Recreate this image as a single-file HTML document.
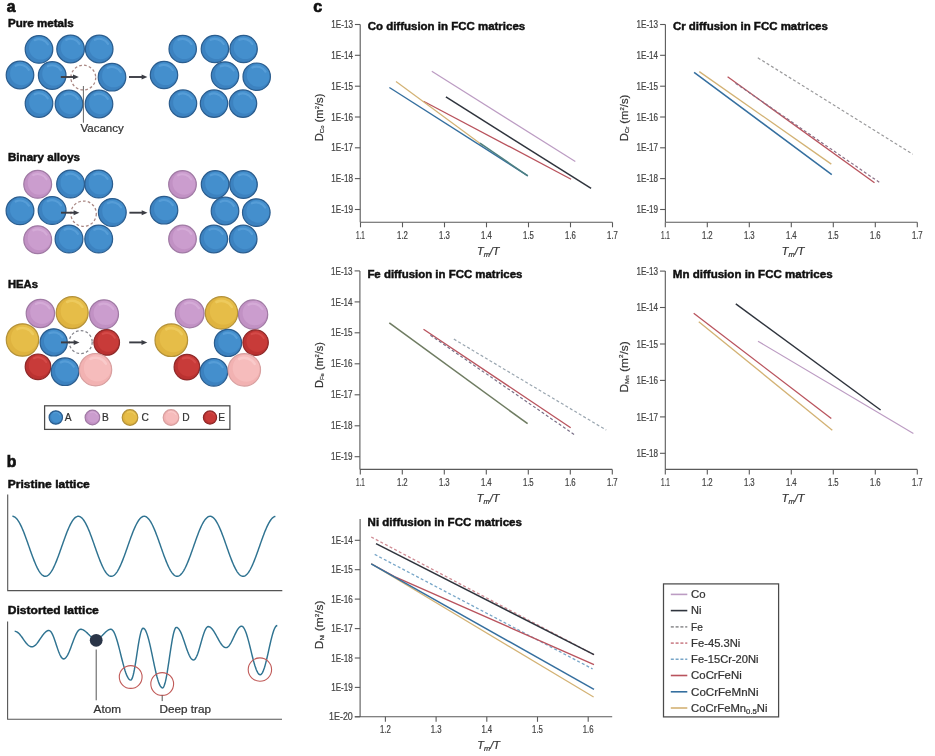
<!DOCTYPE html>
<html><head><meta charset="utf-8"><title>Diffusion in FCC matrices</title>
<style>html,body{margin:0;padding:0;background:#fff;} svg{display:block;will-change:transform;}</style></head>
<body>
<svg width="935" height="756" viewBox="0 0 935 756" font-family="'Liberation Sans', Arial, sans-serif">
<rect width="935" height="756" fill="#ffffff"/>
<text x="6.8" y="11.6" font-size="15.6" font-weight="bold" fill="#111" text-anchor="start" stroke="#111" stroke-width="0.7">a</text>
<text x="8" y="26.5" font-size="10.4" font-weight="bold" fill="#111" text-anchor="start" textLength="65.6" lengthAdjust="spacingAndGlyphs" stroke="#111" stroke-width="0.45">Pure metals</text>
<circle cx="39" cy="49.4" r="13.8" fill="#448fcd"/>
<path d="M25.20,49.40 a13.80,13.80 0 1,0 27.60,0 a13.80,13.80 0 1,0 -27.60,0 Z M29.06,47.94 a11.59,11.59 0 1,0 23.18,0 a11.59,11.59 0 1,0 -23.18,0 Z" fill="#3679b6" fill-rule="evenodd" opacity="0.55"/>
<path d="M34.68,40.14 A10.21,10.21 0 0,1 47.84,44.29" fill="none" stroke="#66a9e0" stroke-width="2.21" stroke-linecap="round" opacity="0.55"/>
<circle cx="39" cy="49.4" r="13.8" fill="none" stroke="#2b5d8e" stroke-width="1.2"/>
<circle cx="70.6" cy="49" r="13.8" fill="#448fcd"/>
<path d="M56.80,49.00 a13.80,13.80 0 1,0 27.60,0 a13.80,13.80 0 1,0 -27.60,0 Z M60.66,47.54 a11.59,11.59 0 1,0 23.18,0 a11.59,11.59 0 1,0 -23.18,0 Z" fill="#3679b6" fill-rule="evenodd" opacity="0.55"/>
<path d="M66.28,39.74 A10.21,10.21 0 0,1 79.44,43.89" fill="none" stroke="#66a9e0" stroke-width="2.21" stroke-linecap="round" opacity="0.55"/>
<circle cx="70.6" cy="49" r="13.8" fill="none" stroke="#2b5d8e" stroke-width="1.2"/>
<circle cx="99.2" cy="49" r="13.8" fill="#448fcd"/>
<path d="M85.40,49.00 a13.80,13.80 0 1,0 27.60,0 a13.80,13.80 0 1,0 -27.60,0 Z M89.26,47.54 a11.59,11.59 0 1,0 23.18,0 a11.59,11.59 0 1,0 -23.18,0 Z" fill="#3679b6" fill-rule="evenodd" opacity="0.55"/>
<path d="M94.88,39.74 A10.21,10.21 0 0,1 108.04,43.89" fill="none" stroke="#66a9e0" stroke-width="2.21" stroke-linecap="round" opacity="0.55"/>
<circle cx="99.2" cy="49" r="13.8" fill="none" stroke="#2b5d8e" stroke-width="1.2"/>
<circle cx="20" cy="75" r="13.8" fill="#448fcd"/>
<path d="M6.20,75.00 a13.80,13.80 0 1,0 27.60,0 a13.80,13.80 0 1,0 -27.60,0 Z M10.06,73.54 a11.59,11.59 0 1,0 23.18,0 a11.59,11.59 0 1,0 -23.18,0 Z" fill="#3679b6" fill-rule="evenodd" opacity="0.55"/>
<path d="M15.68,65.74 A10.21,10.21 0 0,1 28.84,69.89" fill="none" stroke="#66a9e0" stroke-width="2.21" stroke-linecap="round" opacity="0.55"/>
<circle cx="20" cy="75" r="13.8" fill="none" stroke="#2b5d8e" stroke-width="1.2"/>
<circle cx="52.2" cy="75.5" r="13.8" fill="#448fcd"/>
<path d="M38.40,75.50 a13.80,13.80 0 1,0 27.60,0 a13.80,13.80 0 1,0 -27.60,0 Z M42.26,74.04 a11.59,11.59 0 1,0 23.18,0 a11.59,11.59 0 1,0 -23.18,0 Z" fill="#3679b6" fill-rule="evenodd" opacity="0.55"/>
<path d="M47.88,66.24 A10.21,10.21 0 0,1 61.04,70.39" fill="none" stroke="#66a9e0" stroke-width="2.21" stroke-linecap="round" opacity="0.55"/>
<circle cx="52.2" cy="75.5" r="13.8" fill="none" stroke="#2b5d8e" stroke-width="1.2"/>
<circle cx="112" cy="77.2" r="13.8" fill="#448fcd"/>
<path d="M98.20,77.20 a13.80,13.80 0 1,0 27.60,0 a13.80,13.80 0 1,0 -27.60,0 Z M102.06,75.74 a11.59,11.59 0 1,0 23.18,0 a11.59,11.59 0 1,0 -23.18,0 Z" fill="#3679b6" fill-rule="evenodd" opacity="0.55"/>
<path d="M107.68,67.94 A10.21,10.21 0 0,1 120.84,72.09" fill="none" stroke="#66a9e0" stroke-width="2.21" stroke-linecap="round" opacity="0.55"/>
<circle cx="112" cy="77.2" r="13.8" fill="none" stroke="#2b5d8e" stroke-width="1.2"/>
<circle cx="39" cy="103.5" r="13.8" fill="#448fcd"/>
<path d="M25.20,103.50 a13.80,13.80 0 1,0 27.60,0 a13.80,13.80 0 1,0 -27.60,0 Z M29.06,102.04 a11.59,11.59 0 1,0 23.18,0 a11.59,11.59 0 1,0 -23.18,0 Z" fill="#3679b6" fill-rule="evenodd" opacity="0.55"/>
<path d="M34.68,94.24 A10.21,10.21 0 0,1 47.84,98.39" fill="none" stroke="#66a9e0" stroke-width="2.21" stroke-linecap="round" opacity="0.55"/>
<circle cx="39" cy="103.5" r="13.8" fill="none" stroke="#2b5d8e" stroke-width="1.2"/>
<circle cx="69" cy="104" r="13.8" fill="#448fcd"/>
<path d="M55.20,104.00 a13.80,13.80 0 1,0 27.60,0 a13.80,13.80 0 1,0 -27.60,0 Z M59.06,102.54 a11.59,11.59 0 1,0 23.18,0 a11.59,11.59 0 1,0 -23.18,0 Z" fill="#3679b6" fill-rule="evenodd" opacity="0.55"/>
<path d="M64.68,94.74 A10.21,10.21 0 0,1 77.84,98.89" fill="none" stroke="#66a9e0" stroke-width="2.21" stroke-linecap="round" opacity="0.55"/>
<circle cx="69" cy="104" r="13.8" fill="none" stroke="#2b5d8e" stroke-width="1.2"/>
<circle cx="99" cy="104" r="13.8" fill="#448fcd"/>
<path d="M85.20,104.00 a13.80,13.80 0 1,0 27.60,0 a13.80,13.80 0 1,0 -27.60,0 Z M89.06,102.54 a11.59,11.59 0 1,0 23.18,0 a11.59,11.59 0 1,0 -23.18,0 Z" fill="#3679b6" fill-rule="evenodd" opacity="0.55"/>
<path d="M94.68,94.74 A10.21,10.21 0 0,1 107.84,98.89" fill="none" stroke="#66a9e0" stroke-width="2.21" stroke-linecap="round" opacity="0.55"/>
<circle cx="99" cy="104" r="13.8" fill="none" stroke="#2b5d8e" stroke-width="1.2"/>
<circle cx="83.3" cy="77.6" r="12.4" fill="none" stroke="#a98783" stroke-width="1.25" stroke-dasharray="2.7 2.2"/>
<line x1="60.8" y1="77" x2="74.8" y2="77" stroke="#3b3d44" stroke-width="1.9"/>
<path d="M73.0,74.5 L78.8,77 L73.0,79.5 Z" fill="#3b3d44"/>
<line x1="129" y1="77" x2="143.4" y2="77" stroke="#3b3d44" stroke-width="1.9"/>
<path d="M141.6,74.5 L147.4,77 L141.6,79.5 Z" fill="#3b3d44"/>
<line x1="83.4" y1="86" x2="83.4" y2="122.7" stroke="#666" stroke-width="1"/>
<text x="80.4" y="132.2" font-size="10.2" font-weight="normal" fill="#333" text-anchor="start" textLength="43.4" lengthAdjust="spacingAndGlyphs" stroke="#333" stroke-width="0.22" >Vacancy</text>
<circle cx="182.7" cy="49" r="13.7" fill="#448fcd"/>
<path d="M169.00,49.00 a13.70,13.70 0 1,0 27.40,0 a13.70,13.70 0 1,0 -27.40,0 Z M172.84,47.55 a11.51,11.51 0 1,0 23.02,0 a11.51,11.51 0 1,0 -23.02,0 Z" fill="#3679b6" fill-rule="evenodd" opacity="0.55"/>
<path d="M178.42,39.81 A10.14,10.14 0 0,1 191.48,43.93" fill="none" stroke="#66a9e0" stroke-width="2.19" stroke-linecap="round" opacity="0.55"/>
<circle cx="182.7" cy="49" r="13.7" fill="none" stroke="#2b5d8e" stroke-width="1.2"/>
<circle cx="214.9" cy="49" r="13.7" fill="#448fcd"/>
<path d="M201.20,49.00 a13.70,13.70 0 1,0 27.40,0 a13.70,13.70 0 1,0 -27.40,0 Z M205.04,47.55 a11.51,11.51 0 1,0 23.02,0 a11.51,11.51 0 1,0 -23.02,0 Z" fill="#3679b6" fill-rule="evenodd" opacity="0.55"/>
<path d="M210.62,39.81 A10.14,10.14 0 0,1 223.68,43.93" fill="none" stroke="#66a9e0" stroke-width="2.19" stroke-linecap="round" opacity="0.55"/>
<circle cx="214.9" cy="49" r="13.7" fill="none" stroke="#2b5d8e" stroke-width="1.2"/>
<circle cx="243.6" cy="49" r="13.7" fill="#448fcd"/>
<path d="M229.90,49.00 a13.70,13.70 0 1,0 27.40,0 a13.70,13.70 0 1,0 -27.40,0 Z M233.74,47.55 a11.51,11.51 0 1,0 23.02,0 a11.51,11.51 0 1,0 -23.02,0 Z" fill="#3679b6" fill-rule="evenodd" opacity="0.55"/>
<path d="M239.32,39.81 A10.14,10.14 0 0,1 252.38,43.93" fill="none" stroke="#66a9e0" stroke-width="2.19" stroke-linecap="round" opacity="0.55"/>
<circle cx="243.6" cy="49" r="13.7" fill="none" stroke="#2b5d8e" stroke-width="1.2"/>
<circle cx="164" cy="75" r="13.7" fill="#448fcd"/>
<path d="M150.30,75.00 a13.70,13.70 0 1,0 27.40,0 a13.70,13.70 0 1,0 -27.40,0 Z M154.14,73.55 a11.51,11.51 0 1,0 23.02,0 a11.51,11.51 0 1,0 -23.02,0 Z" fill="#3679b6" fill-rule="evenodd" opacity="0.55"/>
<path d="M159.72,65.81 A10.14,10.14 0 0,1 172.78,69.93" fill="none" stroke="#66a9e0" stroke-width="2.19" stroke-linecap="round" opacity="0.55"/>
<circle cx="164" cy="75" r="13.7" fill="none" stroke="#2b5d8e" stroke-width="1.2"/>
<circle cx="225" cy="75.5" r="13.7" fill="#448fcd"/>
<path d="M211.30,75.50 a13.70,13.70 0 1,0 27.40,0 a13.70,13.70 0 1,0 -27.40,0 Z M215.14,74.05 a11.51,11.51 0 1,0 23.02,0 a11.51,11.51 0 1,0 -23.02,0 Z" fill="#3679b6" fill-rule="evenodd" opacity="0.55"/>
<path d="M220.72,66.31 A10.14,10.14 0 0,1 233.78,70.43" fill="none" stroke="#66a9e0" stroke-width="2.19" stroke-linecap="round" opacity="0.55"/>
<circle cx="225" cy="75.5" r="13.7" fill="none" stroke="#2b5d8e" stroke-width="1.2"/>
<circle cx="256.7" cy="76.7" r="13.7" fill="#448fcd"/>
<path d="M243.00,76.70 a13.70,13.70 0 1,0 27.40,0 a13.70,13.70 0 1,0 -27.40,0 Z M246.84,75.25 a11.51,11.51 0 1,0 23.02,0 a11.51,11.51 0 1,0 -23.02,0 Z" fill="#3679b6" fill-rule="evenodd" opacity="0.55"/>
<path d="M252.42,67.51 A10.14,10.14 0 0,1 265.48,71.63" fill="none" stroke="#66a9e0" stroke-width="2.19" stroke-linecap="round" opacity="0.55"/>
<circle cx="256.7" cy="76.7" r="13.7" fill="none" stroke="#2b5d8e" stroke-width="1.2"/>
<circle cx="183" cy="103.6" r="13.7" fill="#448fcd"/>
<path d="M169.30,103.60 a13.70,13.70 0 1,0 27.40,0 a13.70,13.70 0 1,0 -27.40,0 Z M173.14,102.15 a11.51,11.51 0 1,0 23.02,0 a11.51,11.51 0 1,0 -23.02,0 Z" fill="#3679b6" fill-rule="evenodd" opacity="0.55"/>
<path d="M178.72,94.41 A10.14,10.14 0 0,1 191.78,98.53" fill="none" stroke="#66a9e0" stroke-width="2.19" stroke-linecap="round" opacity="0.55"/>
<circle cx="183" cy="103.6" r="13.7" fill="none" stroke="#2b5d8e" stroke-width="1.2"/>
<circle cx="214" cy="103.6" r="13.7" fill="#448fcd"/>
<path d="M200.30,103.60 a13.70,13.70 0 1,0 27.40,0 a13.70,13.70 0 1,0 -27.40,0 Z M204.14,102.15 a11.51,11.51 0 1,0 23.02,0 a11.51,11.51 0 1,0 -23.02,0 Z" fill="#3679b6" fill-rule="evenodd" opacity="0.55"/>
<path d="M209.72,94.41 A10.14,10.14 0 0,1 222.78,98.53" fill="none" stroke="#66a9e0" stroke-width="2.19" stroke-linecap="round" opacity="0.55"/>
<circle cx="214" cy="103.6" r="13.7" fill="none" stroke="#2b5d8e" stroke-width="1.2"/>
<circle cx="243" cy="103.6" r="13.7" fill="#448fcd"/>
<path d="M229.30,103.60 a13.70,13.70 0 1,0 27.40,0 a13.70,13.70 0 1,0 -27.40,0 Z M233.14,102.15 a11.51,11.51 0 1,0 23.02,0 a11.51,11.51 0 1,0 -23.02,0 Z" fill="#3679b6" fill-rule="evenodd" opacity="0.55"/>
<path d="M238.72,94.41 A10.14,10.14 0 0,1 251.78,98.53" fill="none" stroke="#66a9e0" stroke-width="2.19" stroke-linecap="round" opacity="0.55"/>
<circle cx="243" cy="103.6" r="13.7" fill="none" stroke="#2b5d8e" stroke-width="1.2"/>
<text x="8" y="161" font-size="10.4" font-weight="bold" fill="#111" text-anchor="start" textLength="72" lengthAdjust="spacingAndGlyphs" stroke="#111" stroke-width="0.45">Binary alloys</text>
<circle cx="37.7" cy="184.3" r="13.9" fill="#cb9dce"/>
<path d="M23.80,184.30 a13.90,13.90 0 1,0 27.80,0 a13.90,13.90 0 1,0 -27.80,0 Z M27.69,182.83 a11.68,11.68 0 1,0 23.35,0 a11.68,11.68 0 1,0 -23.35,0 Z" fill="#b986bc" fill-rule="evenodd" opacity="0.55"/>
<path d="M33.35,174.98 A10.29,10.29 0 0,1 46.61,179.16" fill="none" stroke="#dcb6de" stroke-width="2.22" stroke-linecap="round" opacity="0.55"/>
<circle cx="37.7" cy="184.3" r="13.9" fill="none" stroke="#a07aa4" stroke-width="1.2"/>
<circle cx="70.6" cy="184" r="13.9" fill="#448fcd"/>
<path d="M56.70,184.00 a13.90,13.90 0 1,0 27.80,0 a13.90,13.90 0 1,0 -27.80,0 Z M60.59,182.53 a11.68,11.68 0 1,0 23.35,0 a11.68,11.68 0 1,0 -23.35,0 Z" fill="#3679b6" fill-rule="evenodd" opacity="0.55"/>
<path d="M66.25,174.68 A10.29,10.29 0 0,1 79.51,178.86" fill="none" stroke="#66a9e0" stroke-width="2.22" stroke-linecap="round" opacity="0.55"/>
<circle cx="70.6" cy="184" r="13.9" fill="none" stroke="#2b5d8e" stroke-width="1.2"/>
<circle cx="98.7" cy="184" r="13.9" fill="#448fcd"/>
<path d="M84.80,184.00 a13.90,13.90 0 1,0 27.80,0 a13.90,13.90 0 1,0 -27.80,0 Z M88.69,182.53 a11.68,11.68 0 1,0 23.35,0 a11.68,11.68 0 1,0 -23.35,0 Z" fill="#3679b6" fill-rule="evenodd" opacity="0.55"/>
<path d="M94.35,174.68 A10.29,10.29 0 0,1 107.61,178.86" fill="none" stroke="#66a9e0" stroke-width="2.22" stroke-linecap="round" opacity="0.55"/>
<circle cx="98.7" cy="184" r="13.9" fill="none" stroke="#2b5d8e" stroke-width="1.2"/>
<circle cx="20" cy="210.8" r="13.9" fill="#448fcd"/>
<path d="M6.10,210.80 a13.90,13.90 0 1,0 27.80,0 a13.90,13.90 0 1,0 -27.80,0 Z M9.99,209.33 a11.68,11.68 0 1,0 23.35,0 a11.68,11.68 0 1,0 -23.35,0 Z" fill="#3679b6" fill-rule="evenodd" opacity="0.55"/>
<path d="M15.65,201.48 A10.29,10.29 0 0,1 28.91,205.66" fill="none" stroke="#66a9e0" stroke-width="2.22" stroke-linecap="round" opacity="0.55"/>
<circle cx="20" cy="210.8" r="13.9" fill="none" stroke="#2b5d8e" stroke-width="1.2"/>
<circle cx="52.1" cy="210.5" r="13.9" fill="#448fcd"/>
<path d="M38.20,210.50 a13.90,13.90 0 1,0 27.80,0 a13.90,13.90 0 1,0 -27.80,0 Z M42.09,209.03 a11.68,11.68 0 1,0 23.35,0 a11.68,11.68 0 1,0 -23.35,0 Z" fill="#3679b6" fill-rule="evenodd" opacity="0.55"/>
<path d="M47.75,201.18 A10.29,10.29 0 0,1 61.01,205.36" fill="none" stroke="#66a9e0" stroke-width="2.22" stroke-linecap="round" opacity="0.55"/>
<circle cx="52.1" cy="210.5" r="13.9" fill="none" stroke="#2b5d8e" stroke-width="1.2"/>
<circle cx="112.3" cy="212.5" r="13.9" fill="#448fcd"/>
<path d="M98.40,212.50 a13.90,13.90 0 1,0 27.80,0 a13.90,13.90 0 1,0 -27.80,0 Z M102.29,211.03 a11.68,11.68 0 1,0 23.35,0 a11.68,11.68 0 1,0 -23.35,0 Z" fill="#3679b6" fill-rule="evenodd" opacity="0.55"/>
<path d="M107.95,203.18 A10.29,10.29 0 0,1 121.21,207.36" fill="none" stroke="#66a9e0" stroke-width="2.22" stroke-linecap="round" opacity="0.55"/>
<circle cx="112.3" cy="212.5" r="13.9" fill="none" stroke="#2b5d8e" stroke-width="1.2"/>
<circle cx="37.7" cy="239.7" r="13.9" fill="#cb9dce"/>
<path d="M23.80,239.70 a13.90,13.90 0 1,0 27.80,0 a13.90,13.90 0 1,0 -27.80,0 Z M27.69,238.23 a11.68,11.68 0 1,0 23.35,0 a11.68,11.68 0 1,0 -23.35,0 Z" fill="#b986bc" fill-rule="evenodd" opacity="0.55"/>
<path d="M33.35,230.38 A10.29,10.29 0 0,1 46.61,234.56" fill="none" stroke="#dcb6de" stroke-width="2.22" stroke-linecap="round" opacity="0.55"/>
<circle cx="37.7" cy="239.7" r="13.9" fill="none" stroke="#a07aa4" stroke-width="1.2"/>
<circle cx="69" cy="239" r="13.9" fill="#448fcd"/>
<path d="M55.10,239.00 a13.90,13.90 0 1,0 27.80,0 a13.90,13.90 0 1,0 -27.80,0 Z M58.99,237.53 a11.68,11.68 0 1,0 23.35,0 a11.68,11.68 0 1,0 -23.35,0 Z" fill="#3679b6" fill-rule="evenodd" opacity="0.55"/>
<path d="M64.65,229.68 A10.29,10.29 0 0,1 77.91,233.86" fill="none" stroke="#66a9e0" stroke-width="2.22" stroke-linecap="round" opacity="0.55"/>
<circle cx="69" cy="239" r="13.9" fill="none" stroke="#2b5d8e" stroke-width="1.2"/>
<circle cx="98.7" cy="239" r="13.9" fill="#448fcd"/>
<path d="M84.80,239.00 a13.90,13.90 0 1,0 27.80,0 a13.90,13.90 0 1,0 -27.80,0 Z M88.69,237.53 a11.68,11.68 0 1,0 23.35,0 a11.68,11.68 0 1,0 -23.35,0 Z" fill="#3679b6" fill-rule="evenodd" opacity="0.55"/>
<path d="M94.35,229.68 A10.29,10.29 0 0,1 107.61,233.86" fill="none" stroke="#66a9e0" stroke-width="2.22" stroke-linecap="round" opacity="0.55"/>
<circle cx="98.7" cy="239" r="13.9" fill="none" stroke="#2b5d8e" stroke-width="1.2"/>
<circle cx="83.6" cy="213.7" r="12.7" fill="none" stroke="#a98783" stroke-width="1.25" stroke-dasharray="2.7 2.2"/>
<line x1="61" y1="212.7" x2="75.4" y2="212.7" stroke="#3b3d44" stroke-width="1.9"/>
<path d="M73.60000000000001,210.2 L79.4,212.7 L73.60000000000001,215.2 Z" fill="#3b3d44"/>
<line x1="129.4" y1="212.7" x2="143.5" y2="212.7" stroke="#3b3d44" stroke-width="1.9"/>
<path d="M141.7,210.2 L147.5,212.7 L141.7,215.2 Z" fill="#3b3d44"/>
<circle cx="182.5" cy="184.5" r="13.8" fill="#cb9dce"/>
<path d="M168.70,184.50 a13.80,13.80 0 1,0 27.60,0 a13.80,13.80 0 1,0 -27.60,0 Z M172.56,183.04 a11.59,11.59 0 1,0 23.18,0 a11.59,11.59 0 1,0 -23.18,0 Z" fill="#b986bc" fill-rule="evenodd" opacity="0.55"/>
<path d="M178.18,175.24 A10.21,10.21 0 0,1 191.34,179.39" fill="none" stroke="#dcb6de" stroke-width="2.21" stroke-linecap="round" opacity="0.55"/>
<circle cx="182.5" cy="184.5" r="13.8" fill="none" stroke="#a07aa4" stroke-width="1.2"/>
<circle cx="215.1" cy="184.5" r="13.8" fill="#448fcd"/>
<path d="M201.30,184.50 a13.80,13.80 0 1,0 27.60,0 a13.80,13.80 0 1,0 -27.60,0 Z M205.16,183.04 a11.59,11.59 0 1,0 23.18,0 a11.59,11.59 0 1,0 -23.18,0 Z" fill="#3679b6" fill-rule="evenodd" opacity="0.55"/>
<path d="M210.78,175.24 A10.21,10.21 0 0,1 223.94,179.39" fill="none" stroke="#66a9e0" stroke-width="2.21" stroke-linecap="round" opacity="0.55"/>
<circle cx="215.1" cy="184.5" r="13.8" fill="none" stroke="#2b5d8e" stroke-width="1.2"/>
<circle cx="243.5" cy="184.5" r="13.8" fill="#448fcd"/>
<path d="M229.70,184.50 a13.80,13.80 0 1,0 27.60,0 a13.80,13.80 0 1,0 -27.60,0 Z M233.56,183.04 a11.59,11.59 0 1,0 23.18,0 a11.59,11.59 0 1,0 -23.18,0 Z" fill="#3679b6" fill-rule="evenodd" opacity="0.55"/>
<path d="M239.18,175.24 A10.21,10.21 0 0,1 252.34,179.39" fill="none" stroke="#66a9e0" stroke-width="2.21" stroke-linecap="round" opacity="0.55"/>
<circle cx="243.5" cy="184.5" r="13.8" fill="none" stroke="#2b5d8e" stroke-width="1.2"/>
<circle cx="164" cy="210.2" r="13.8" fill="#448fcd"/>
<path d="M150.20,210.20 a13.80,13.80 0 1,0 27.60,0 a13.80,13.80 0 1,0 -27.60,0 Z M154.06,208.74 a11.59,11.59 0 1,0 23.18,0 a11.59,11.59 0 1,0 -23.18,0 Z" fill="#3679b6" fill-rule="evenodd" opacity="0.55"/>
<path d="M159.68,200.94 A10.21,10.21 0 0,1 172.84,205.09" fill="none" stroke="#66a9e0" stroke-width="2.21" stroke-linecap="round" opacity="0.55"/>
<circle cx="164" cy="210.2" r="13.8" fill="none" stroke="#2b5d8e" stroke-width="1.2"/>
<circle cx="225" cy="211" r="13.8" fill="#448fcd"/>
<path d="M211.20,211.00 a13.80,13.80 0 1,0 27.60,0 a13.80,13.80 0 1,0 -27.60,0 Z M215.06,209.54 a11.59,11.59 0 1,0 23.18,0 a11.59,11.59 0 1,0 -23.18,0 Z" fill="#3679b6" fill-rule="evenodd" opacity="0.55"/>
<path d="M220.68,201.74 A10.21,10.21 0 0,1 233.84,205.89" fill="none" stroke="#66a9e0" stroke-width="2.21" stroke-linecap="round" opacity="0.55"/>
<circle cx="225" cy="211" r="13.8" fill="none" stroke="#2b5d8e" stroke-width="1.2"/>
<circle cx="256.3" cy="212.6" r="13.8" fill="#448fcd"/>
<path d="M242.50,212.60 a13.80,13.80 0 1,0 27.60,0 a13.80,13.80 0 1,0 -27.60,0 Z M246.36,211.14 a11.59,11.59 0 1,0 23.18,0 a11.59,11.59 0 1,0 -23.18,0 Z" fill="#3679b6" fill-rule="evenodd" opacity="0.55"/>
<path d="M251.98,203.34 A10.21,10.21 0 0,1 265.14,207.49" fill="none" stroke="#66a9e0" stroke-width="2.21" stroke-linecap="round" opacity="0.55"/>
<circle cx="256.3" cy="212.6" r="13.8" fill="none" stroke="#2b5d8e" stroke-width="1.2"/>
<circle cx="182.5" cy="239" r="13.8" fill="#cb9dce"/>
<path d="M168.70,239.00 a13.80,13.80 0 1,0 27.60,0 a13.80,13.80 0 1,0 -27.60,0 Z M172.56,237.54 a11.59,11.59 0 1,0 23.18,0 a11.59,11.59 0 1,0 -23.18,0 Z" fill="#b986bc" fill-rule="evenodd" opacity="0.55"/>
<path d="M178.18,229.74 A10.21,10.21 0 0,1 191.34,233.89" fill="none" stroke="#dcb6de" stroke-width="2.21" stroke-linecap="round" opacity="0.55"/>
<circle cx="182.5" cy="239" r="13.8" fill="none" stroke="#a07aa4" stroke-width="1.2"/>
<circle cx="213.8" cy="239" r="13.8" fill="#448fcd"/>
<path d="M200.00,239.00 a13.80,13.80 0 1,0 27.60,0 a13.80,13.80 0 1,0 -27.60,0 Z M203.86,237.54 a11.59,11.59 0 1,0 23.18,0 a11.59,11.59 0 1,0 -23.18,0 Z" fill="#3679b6" fill-rule="evenodd" opacity="0.55"/>
<path d="M209.48,229.74 A10.21,10.21 0 0,1 222.64,233.89" fill="none" stroke="#66a9e0" stroke-width="2.21" stroke-linecap="round" opacity="0.55"/>
<circle cx="213.8" cy="239" r="13.8" fill="none" stroke="#2b5d8e" stroke-width="1.2"/>
<circle cx="243.2" cy="239" r="13.8" fill="#448fcd"/>
<path d="M229.40,239.00 a13.80,13.80 0 1,0 27.60,0 a13.80,13.80 0 1,0 -27.60,0 Z M233.26,237.54 a11.59,11.59 0 1,0 23.18,0 a11.59,11.59 0 1,0 -23.18,0 Z" fill="#3679b6" fill-rule="evenodd" opacity="0.55"/>
<path d="M238.88,229.74 A10.21,10.21 0 0,1 252.04,233.89" fill="none" stroke="#66a9e0" stroke-width="2.21" stroke-linecap="round" opacity="0.55"/>
<circle cx="243.2" cy="239" r="13.8" fill="none" stroke="#2b5d8e" stroke-width="1.2"/>
<text x="8" y="287.5" font-size="10.4" font-weight="bold" fill="#111" text-anchor="start" textLength="30" lengthAdjust="spacingAndGlyphs" stroke="#111" stroke-width="0.45">HEAs</text>
<circle cx="40.4" cy="313.5" r="14.2" fill="#cb9dce"/>
<path d="M26.20,313.50 a14.20,14.20 0 1,0 28.40,0 a14.20,14.20 0 1,0 -28.40,0 Z M30.18,312.00 a11.93,11.93 0 1,0 23.86,0 a11.93,11.93 0 1,0 -23.86,0 Z" fill="#b986bc" fill-rule="evenodd" opacity="0.55"/>
<path d="M35.96,303.98 A10.51,10.51 0 0,1 49.50,308.25" fill="none" stroke="#dcb6de" stroke-width="2.27" stroke-linecap="round" opacity="0.55"/>
<circle cx="40.4" cy="313.5" r="14.2" fill="none" stroke="#a07aa4" stroke-width="1.2"/>
<circle cx="72.2" cy="312.7" r="16" fill="#e6bd48"/>
<path d="M56.20,312.70 a16.00,16.00 0 1,0 32.00,0 a16.00,16.00 0 1,0 -32.00,0 Z M60.68,311.01 a13.44,13.44 0 1,0 26.88,0 a13.44,13.44 0 1,0 -26.88,0 Z" fill="#d9ab38" fill-rule="evenodd" opacity="0.55"/>
<path d="M67.20,301.97 A11.84,11.84 0 0,1 82.45,306.78" fill="none" stroke="#f3d570" stroke-width="2.56" stroke-linecap="round" opacity="0.55"/>
<circle cx="72.2" cy="312.7" r="16" fill="none" stroke="#b4923a" stroke-width="1.2"/>
<circle cx="104" cy="314.3" r="14.5" fill="#cb9dce"/>
<path d="M89.50,314.30 a14.50,14.50 0 1,0 29.00,0 a14.50,14.50 0 1,0 -29.00,0 Z M93.56,312.77 a12.18,12.18 0 1,0 24.36,0 a12.18,12.18 0 1,0 -24.36,0 Z" fill="#b986bc" fill-rule="evenodd" opacity="0.55"/>
<path d="M99.47,304.58 A10.73,10.73 0 0,1 113.29,308.94" fill="none" stroke="#dcb6de" stroke-width="2.32" stroke-linecap="round" opacity="0.55"/>
<circle cx="104" cy="314.3" r="14.5" fill="none" stroke="#a07aa4" stroke-width="1.2"/>
<circle cx="22.5" cy="340" r="16.2" fill="#e6bd48"/>
<path d="M6.30,340.00 a16.20,16.20 0 1,0 32.40,0 a16.20,16.20 0 1,0 -32.40,0 Z M10.84,338.29 a13.61,13.61 0 1,0 27.22,0 a13.61,13.61 0 1,0 -27.22,0 Z" fill="#d9ab38" fill-rule="evenodd" opacity="0.55"/>
<path d="M17.43,329.14 A11.99,11.99 0 0,1 32.88,334.01" fill="none" stroke="#f3d570" stroke-width="2.59" stroke-linecap="round" opacity="0.55"/>
<circle cx="22.5" cy="340" r="16.2" fill="none" stroke="#b4923a" stroke-width="1.2"/>
<circle cx="53.7" cy="342.4" r="13.6" fill="#448fcd"/>
<path d="M40.10,342.40 a13.60,13.60 0 1,0 27.20,0 a13.60,13.60 0 1,0 -27.20,0 Z M43.91,340.96 a11.42,11.42 0 1,0 22.85,0 a11.42,11.42 0 1,0 -22.85,0 Z" fill="#3679b6" fill-rule="evenodd" opacity="0.55"/>
<path d="M49.45,333.28 A10.06,10.06 0 0,1 62.42,337.37" fill="none" stroke="#66a9e0" stroke-width="2.18" stroke-linecap="round" opacity="0.55"/>
<circle cx="53.7" cy="342.4" r="13.6" fill="none" stroke="#2b5d8e" stroke-width="1.2"/>
<circle cx="106.7" cy="342.4" r="12.8" fill="#c83b39"/>
<path d="M93.90,342.40 a12.80,12.80 0 1,0 25.60,0 a12.80,12.80 0 1,0 -25.60,0 Z M97.48,341.05 a10.75,10.75 0 1,0 21.50,0 a10.75,10.75 0 1,0 -21.50,0 Z" fill="#b12c2c" fill-rule="evenodd" opacity="0.55"/>
<path d="M102.70,333.82 A9.47,9.47 0 0,1 114.90,337.66" fill="none" stroke="#df5856" stroke-width="2.05" stroke-linecap="round" opacity="0.55"/>
<circle cx="106.7" cy="342.4" r="12.8" fill="none" stroke="#8e2a2a" stroke-width="1.2"/>
<circle cx="38" cy="366.8" r="12.8" fill="#c83b39"/>
<path d="M25.20,366.80 a12.80,12.80 0 1,0 25.60,0 a12.80,12.80 0 1,0 -25.60,0 Z M28.78,365.45 a10.75,10.75 0 1,0 21.50,0 a10.75,10.75 0 1,0 -21.50,0 Z" fill="#b12c2c" fill-rule="evenodd" opacity="0.55"/>
<path d="M34.00,358.22 A9.47,9.47 0 0,1 46.20,362.06" fill="none" stroke="#df5856" stroke-width="2.05" stroke-linecap="round" opacity="0.55"/>
<circle cx="38" cy="366.8" r="12.8" fill="none" stroke="#8e2a2a" stroke-width="1.2"/>
<circle cx="65" cy="371.7" r="13.8" fill="#448fcd"/>
<path d="M51.20,371.70 a13.80,13.80 0 1,0 27.60,0 a13.80,13.80 0 1,0 -27.60,0 Z M55.06,370.24 a11.59,11.59 0 1,0 23.18,0 a11.59,11.59 0 1,0 -23.18,0 Z" fill="#3679b6" fill-rule="evenodd" opacity="0.55"/>
<path d="M60.68,362.44 A10.21,10.21 0 0,1 73.84,366.59" fill="none" stroke="#66a9e0" stroke-width="2.21" stroke-linecap="round" opacity="0.55"/>
<circle cx="65" cy="371.7" r="13.8" fill="none" stroke="#2b5d8e" stroke-width="1.2"/>
<circle cx="95.5" cy="369.7" r="16.2" fill="#f6bcbc"/>
<path d="M79.30,369.70 a16.20,16.20 0 1,0 32.40,0 a16.20,16.20 0 1,0 -32.40,0 Z M83.84,367.99 a13.61,13.61 0 1,0 27.22,0 a13.61,13.61 0 1,0 -27.22,0 Z" fill="#eeaaaa" fill-rule="evenodd" opacity="0.55"/>
<path d="M90.43,358.84 A11.99,11.99 0 0,1 105.88,363.71" fill="none" stroke="#fcd6d6" stroke-width="2.59" stroke-linecap="round" opacity="0.55"/>
<circle cx="95.5" cy="369.7" r="16.2" fill="none" stroke="#d8a0a0" stroke-width="1.2"/>
<circle cx="80.7" cy="342.1" r="11.5" fill="none" stroke="#85858c" stroke-width="1.25" stroke-dasharray="2.7 2.2"/>
<line x1="61" y1="342.4" x2="75.5" y2="342.4" stroke="#3b3d44" stroke-width="1.9"/>
<path d="M73.7,339.9 L79.5,342.4 L73.7,344.9 Z" fill="#3b3d44"/>
<line x1="129.2" y1="342.4" x2="143.3" y2="342.4" stroke="#3b3d44" stroke-width="1.9"/>
<path d="M141.5,339.9 L147.3,342.4 L141.5,344.9 Z" fill="#3b3d44"/>
<circle cx="189.7" cy="313.4" r="14.4" fill="#cb9dce"/>
<path d="M175.30,313.40 a14.40,14.40 0 1,0 28.80,0 a14.40,14.40 0 1,0 -28.80,0 Z M179.33,311.88 a12.10,12.10 0 1,0 24.19,0 a12.10,12.10 0 1,0 -24.19,0 Z" fill="#b986bc" fill-rule="evenodd" opacity="0.55"/>
<path d="M185.20,303.74 A10.66,10.66 0 0,1 198.93,308.07" fill="none" stroke="#dcb6de" stroke-width="2.30" stroke-linecap="round" opacity="0.55"/>
<circle cx="189.7" cy="313.4" r="14.4" fill="none" stroke="#a07aa4" stroke-width="1.2"/>
<circle cx="221.5" cy="312.9" r="16.2" fill="#e6bd48"/>
<path d="M205.30,312.90 a16.20,16.20 0 1,0 32.40,0 a16.20,16.20 0 1,0 -32.40,0 Z M209.84,311.19 a13.61,13.61 0 1,0 27.22,0 a13.61,13.61 0 1,0 -27.22,0 Z" fill="#d9ab38" fill-rule="evenodd" opacity="0.55"/>
<path d="M216.43,302.04 A11.99,11.99 0 0,1 231.88,306.91" fill="none" stroke="#f3d570" stroke-width="2.59" stroke-linecap="round" opacity="0.55"/>
<circle cx="221.5" cy="312.9" r="16.2" fill="none" stroke="#b4923a" stroke-width="1.2"/>
<circle cx="253.1" cy="314.5" r="14.6" fill="#cb9dce"/>
<path d="M238.50,314.50 a14.60,14.60 0 1,0 29.20,0 a14.60,14.60 0 1,0 -29.20,0 Z M242.59,312.96 a12.26,12.26 0 1,0 24.53,0 a12.26,12.26 0 1,0 -24.53,0 Z" fill="#b986bc" fill-rule="evenodd" opacity="0.55"/>
<path d="M248.53,304.71 A10.80,10.80 0 0,1 262.46,309.10" fill="none" stroke="#dcb6de" stroke-width="2.34" stroke-linecap="round" opacity="0.55"/>
<circle cx="253.1" cy="314.5" r="14.6" fill="none" stroke="#a07aa4" stroke-width="1.2"/>
<circle cx="171.3" cy="340.2" r="16.3" fill="#e6bd48"/>
<path d="M155.00,340.20 a16.30,16.30 0 1,0 32.60,0 a16.30,16.30 0 1,0 -32.60,0 Z M159.56,338.48 a13.69,13.69 0 1,0 27.38,0 a13.69,13.69 0 1,0 -27.38,0 Z" fill="#d9ab38" fill-rule="evenodd" opacity="0.55"/>
<path d="M166.20,329.27 A12.06,12.06 0 0,1 181.75,334.17" fill="none" stroke="#f3d570" stroke-width="2.61" stroke-linecap="round" opacity="0.55"/>
<circle cx="171.3" cy="340.2" r="16.3" fill="none" stroke="#b4923a" stroke-width="1.2"/>
<circle cx="228" cy="342.9" r="13.6" fill="#448fcd"/>
<path d="M214.40,342.90 a13.60,13.60 0 1,0 27.20,0 a13.60,13.60 0 1,0 -27.20,0 Z M218.21,341.46 a11.42,11.42 0 1,0 22.85,0 a11.42,11.42 0 1,0 -22.85,0 Z" fill="#3679b6" fill-rule="evenodd" opacity="0.55"/>
<path d="M223.75,333.78 A10.06,10.06 0 0,1 236.72,337.87" fill="none" stroke="#66a9e0" stroke-width="2.18" stroke-linecap="round" opacity="0.55"/>
<circle cx="228" cy="342.9" r="13.6" fill="none" stroke="#2b5d8e" stroke-width="1.2"/>
<circle cx="255.6" cy="342.6" r="12.7" fill="#c83b39"/>
<path d="M242.90,342.60 a12.70,12.70 0 1,0 25.40,0 a12.70,12.70 0 1,0 -25.40,0 Z M246.46,341.26 a10.67,10.67 0 1,0 21.34,0 a10.67,10.67 0 1,0 -21.34,0 Z" fill="#b12c2c" fill-rule="evenodd" opacity="0.55"/>
<path d="M251.63,334.08 A9.40,9.40 0 0,1 263.74,337.90" fill="none" stroke="#df5856" stroke-width="2.03" stroke-linecap="round" opacity="0.55"/>
<circle cx="255.6" cy="342.6" r="12.7" fill="none" stroke="#8e2a2a" stroke-width="1.2"/>
<circle cx="186.9" cy="367.1" r="12.8" fill="#c83b39"/>
<path d="M174.10,367.10 a12.80,12.80 0 1,0 25.60,0 a12.80,12.80 0 1,0 -25.60,0 Z M177.68,365.75 a10.75,10.75 0 1,0 21.50,0 a10.75,10.75 0 1,0 -21.50,0 Z" fill="#b12c2c" fill-rule="evenodd" opacity="0.55"/>
<path d="M182.90,358.52 A9.47,9.47 0 0,1 195.10,362.36" fill="none" stroke="#df5856" stroke-width="2.05" stroke-linecap="round" opacity="0.55"/>
<circle cx="186.9" cy="367.1" r="12.8" fill="none" stroke="#8e2a2a" stroke-width="1.2"/>
<circle cx="213.8" cy="372.3" r="13.8" fill="#448fcd"/>
<path d="M200.00,372.30 a13.80,13.80 0 1,0 27.60,0 a13.80,13.80 0 1,0 -27.60,0 Z M203.86,370.84 a11.59,11.59 0 1,0 23.18,0 a11.59,11.59 0 1,0 -23.18,0 Z" fill="#3679b6" fill-rule="evenodd" opacity="0.55"/>
<path d="M209.48,363.04 A10.21,10.21 0 0,1 222.64,367.19" fill="none" stroke="#66a9e0" stroke-width="2.21" stroke-linecap="round" opacity="0.55"/>
<circle cx="213.8" cy="372.3" r="13.8" fill="none" stroke="#2b5d8e" stroke-width="1.2"/>
<circle cx="244.3" cy="369.9" r="16.2" fill="#f6bcbc"/>
<path d="M228.10,369.90 a16.20,16.20 0 1,0 32.40,0 a16.20,16.20 0 1,0 -32.40,0 Z M232.64,368.19 a13.61,13.61 0 1,0 27.22,0 a13.61,13.61 0 1,0 -27.22,0 Z" fill="#eeaaaa" fill-rule="evenodd" opacity="0.55"/>
<path d="M239.23,359.04 A11.99,11.99 0 0,1 254.68,363.91" fill="none" stroke="#fcd6d6" stroke-width="2.59" stroke-linecap="round" opacity="0.55"/>
<circle cx="244.3" cy="369.9" r="16.2" fill="none" stroke="#d8a0a0" stroke-width="1.2"/>
<rect x="44.6" y="405.8" width="185.3" height="23.6" fill="none" stroke="#4a4a4a" stroke-width="1.25"/>
<circle cx="55.8" cy="417.5" r="6.7" fill="#448fcd"/>
<path d="M49.10,417.50 a6.70,6.70 0 1,0 13.40,0 a6.70,6.70 0 1,0 -13.40,0 Z M50.98,416.79 a5.63,5.63 0 1,0 11.26,0 a5.63,5.63 0 1,0 -11.26,0 Z" fill="#3679b6" fill-rule="evenodd" opacity="0.55"/>
<path d="M53.70,413.01 A4.96,4.96 0 0,1 60.09,415.02" fill="none" stroke="#66a9e0" stroke-width="1.07" stroke-linecap="round" opacity="0.55"/>
<circle cx="55.8" cy="417.5" r="6.7" fill="none" stroke="#2b5d8e" stroke-width="1.2"/>
<text x="64.8" y="421.2" font-size="10.2" font-weight="normal" fill="#333" text-anchor="start" stroke="#333" stroke-width="0.22" >A</text>
<circle cx="92.4" cy="417.5" r="7.3" fill="#cb9dce"/>
<path d="M85.10,417.50 a7.30,7.30 0 1,0 14.60,0 a7.30,7.30 0 1,0 -14.60,0 Z M87.14,416.73 a6.13,6.13 0 1,0 12.26,0 a6.13,6.13 0 1,0 -12.26,0 Z" fill="#b986bc" fill-rule="evenodd" opacity="0.55"/>
<path d="M90.12,412.60 A5.40,5.40 0 0,1 97.08,414.80" fill="none" stroke="#dcb6de" stroke-width="1.17" stroke-linecap="round" opacity="0.55"/>
<circle cx="92.4" cy="417.5" r="7.3" fill="none" stroke="#a07aa4" stroke-width="1.2"/>
<text x="101.9" y="421.2" font-size="10.2" font-weight="normal" fill="#333" text-anchor="start" stroke="#333" stroke-width="0.22" >B</text>
<circle cx="130" cy="417.5" r="7.8" fill="#e6bd48"/>
<path d="M122.20,417.50 a7.80,7.80 0 1,0 15.60,0 a7.80,7.80 0 1,0 -15.60,0 Z M124.38,416.68 a6.55,6.55 0 1,0 13.10,0 a6.55,6.55 0 1,0 -13.10,0 Z" fill="#d9ab38" fill-rule="evenodd" opacity="0.55"/>
<path d="M127.56,412.27 A5.77,5.77 0 0,1 135.00,414.61" fill="none" stroke="#f3d570" stroke-width="1.25" stroke-linecap="round" opacity="0.55"/>
<circle cx="130" cy="417.5" r="7.8" fill="none" stroke="#b4923a" stroke-width="1.2"/>
<text x="141.6" y="421.2" font-size="10.2" font-weight="normal" fill="#333" text-anchor="start" stroke="#333" stroke-width="0.22" >C</text>
<circle cx="171" cy="417.5" r="7.8" fill="#f6bcbc"/>
<path d="M163.20,417.50 a7.80,7.80 0 1,0 15.60,0 a7.80,7.80 0 1,0 -15.60,0 Z M165.38,416.68 a6.55,6.55 0 1,0 13.10,0 a6.55,6.55 0 1,0 -13.10,0 Z" fill="#eeaaaa" fill-rule="evenodd" opacity="0.55"/>
<path d="M168.56,412.27 A5.77,5.77 0 0,1 176.00,414.61" fill="none" stroke="#fcd6d6" stroke-width="1.25" stroke-linecap="round" opacity="0.55"/>
<circle cx="171" cy="417.5" r="7.8" fill="none" stroke="#d8a0a0" stroke-width="1.2"/>
<text x="182.3" y="421.2" font-size="10.2" font-weight="normal" fill="#333" text-anchor="start" stroke="#333" stroke-width="0.22" >D</text>
<circle cx="210" cy="417.5" r="6.6" fill="#c83b39"/>
<path d="M203.40,417.50 a6.60,6.60 0 1,0 13.20,0 a6.60,6.60 0 1,0 -13.20,0 Z M205.25,416.80 a5.54,5.54 0 1,0 11.09,0 a5.54,5.54 0 1,0 -11.09,0 Z" fill="#b12c2c" fill-rule="evenodd" opacity="0.55"/>
<path d="M207.94,413.07 A4.88,4.88 0 0,1 214.23,415.06" fill="none" stroke="#df5856" stroke-width="1.06" stroke-linecap="round" opacity="0.55"/>
<circle cx="210" cy="417.5" r="6.6" fill="none" stroke="#8e2a2a" stroke-width="1.2"/>
<text x="218.2" y="421.2" font-size="10.2" font-weight="normal" fill="#333" text-anchor="start" stroke="#333" stroke-width="0.22" >E</text>
<text x="6.8" y="467.3" font-size="15.6" font-weight="bold" fill="#111" text-anchor="start" stroke="#111" stroke-width="0.7">b</text>
<text x="7.8" y="487.8" font-size="10.4" font-weight="bold" fill="#111" text-anchor="start" textLength="82" lengthAdjust="spacingAndGlyphs" stroke="#111" stroke-width="0.45">Pristine lattice</text>
<path d="M7.7,494.6 V590.6 H282.3" fill="none" stroke="#555" stroke-width="1.1"/>
<polyline points="12.4,516.30 12.9,516.33 13.4,516.44 13.9,516.61 14.4,516.84 14.9,517.15 15.4,517.52 15.9,517.95 16.4,518.46 16.9,519.02 17.4,519.64 17.9,520.33 18.4,521.08 18.9,521.88 19.4,522.74 19.9,523.65 20.4,524.61 20.9,525.62 21.4,526.68 21.9,527.79 22.4,528.93 22.9,530.12 23.4,531.34 23.9,532.60 24.4,533.88 24.9,535.20 25.4,536.54 25.9,537.90 26.4,539.29 26.9,540.68 27.4,542.09 27.9,543.52 28.4,544.94 28.9,546.37 29.4,547.80 29.9,549.23 30.4,550.65 30.9,552.06 31.4,553.45 31.9,554.83 32.4,556.19 32.9,557.53 33.4,558.85 33.9,560.13 34.4,561.38 34.9,562.60 35.4,563.78 35.9,564.92 36.4,566.02 36.9,567.08 37.4,568.09 37.9,569.04 38.4,569.95 38.9,570.80 39.4,571.60 39.9,572.34 40.4,573.02 40.9,573.64 41.4,574.20 41.9,574.69 42.4,575.12 42.9,575.49 43.4,575.78 43.9,576.01 44.4,576.18 44.9,576.27 45.4,576.30 45.9,576.26 46.4,576.15 46.9,575.97 47.4,575.73 47.9,575.42 48.4,575.04 48.9,574.60 49.4,574.09 49.9,573.52 50.4,572.89 50.9,572.20 51.4,571.45 51.9,570.64 52.4,569.77 52.9,568.86 53.4,567.89 53.9,566.87 54.4,565.81 54.9,564.70 55.4,563.55 55.9,562.36 56.4,561.13 56.9,559.88 57.4,558.58 57.9,557.27 58.4,555.92 58.9,554.56 59.4,553.17 59.9,551.78 60.4,550.36 60.9,548.94 61.4,547.52 61.9,546.09 62.4,544.66 62.9,543.23 63.4,541.81 63.9,540.40 64.4,539.01 64.9,537.63 65.4,536.27 65.9,534.94 66.4,533.63 66.9,532.34 67.4,531.09 67.9,529.88 68.4,528.70 68.9,527.56 69.4,526.47 69.9,525.42 70.4,524.42 70.9,523.46 71.4,522.56 71.9,521.71 72.4,520.92 72.9,520.19 73.4,519.51 73.9,518.90 74.4,518.35 74.9,517.86 75.4,517.44 75.9,517.08 76.4,516.79 76.9,516.57 77.4,516.41 77.9,516.32 78.4,516.30 78.9,516.35 79.4,516.46 79.9,516.65 80.4,516.90 80.9,517.22 81.4,517.60 81.9,518.05 82.4,518.56 82.9,519.14 83.4,519.78 83.9,520.48 84.4,521.23 84.9,522.05 85.4,522.92 85.9,523.84 86.4,524.81 86.9,525.83 87.4,526.90 87.9,528.01 88.4,529.17 88.9,530.36 89.4,531.59 89.9,532.85 90.4,534.15 90.9,535.47 91.4,536.81 91.9,538.18 92.4,539.56 92.9,540.97 93.4,542.38 93.9,543.80 94.4,545.23 94.9,546.66 95.4,548.09 95.9,549.51 96.4,550.93 96.9,552.34 97.4,553.73 97.9,555.11 98.4,556.46 98.9,557.80 99.4,559.10 99.9,560.38 100.4,561.63 100.9,562.84 101.4,564.01 101.9,565.15 102.4,566.24 102.9,567.28 103.4,568.28 103.9,569.23 104.4,570.13 104.9,570.97 105.4,571.75 105.9,572.48 106.4,573.15 106.9,573.76 107.4,574.30 107.9,574.78 108.4,575.20 108.9,575.55 109.4,575.83 109.9,576.05 110.4,576.20 110.9,576.28 111.4,576.30 111.9,576.24 112.4,576.12 112.9,575.93 113.4,575.67 113.9,575.35 114.4,574.96 114.9,574.50 115.4,573.98 115.9,573.40 116.4,572.76 116.9,572.05 117.4,571.29 117.9,570.47 118.4,569.59 118.9,568.67 119.4,567.69 119.9,566.66 120.4,565.59 120.9,564.47 121.4,563.31 121.9,562.12 122.4,560.89 122.9,559.62 123.4,558.32 123.9,557.00 124.4,555.65 124.9,554.28 125.4,552.90 125.9,551.49 126.4,550.08 126.9,548.66 127.4,547.23 127.9,545.80 128.4,544.37 128.9,542.95 129.4,541.53 129.9,540.12 130.4,538.73 130.9,537.36 131.4,536.00 131.9,534.67 132.4,533.37 132.9,532.09 133.4,530.85 133.9,529.64 134.4,528.47 134.9,527.34 135.4,526.25 135.9,525.21 136.4,524.22 136.9,523.28 137.4,522.39 137.9,521.55 138.4,520.77 138.9,520.05 139.4,519.39 139.9,518.79 140.4,518.25 140.9,517.77 141.4,517.36 141.9,517.02 142.4,516.74 142.9,516.53 143.4,516.39 143.9,516.31 144.4,516.31 144.9,516.37 145.4,516.50 145.9,516.69 146.4,516.96 146.9,517.29 147.4,517.69 147.9,518.15 148.4,518.67 148.9,519.26 149.4,519.91 149.9,520.62 150.4,521.39 150.9,522.22 151.4,523.10 151.9,524.03 152.4,525.01 152.9,526.04 153.4,527.12 153.9,528.24 154.4,529.40 154.9,530.60 155.4,531.84 155.9,533.11 156.4,534.41 156.9,535.73 157.4,537.08 157.9,538.45 158.4,539.84 158.9,541.25 159.4,542.66 159.9,544.09 160.4,545.51 160.9,546.94 161.4,548.37 161.9,549.80 162.4,551.21 162.9,552.62 163.4,554.01 163.9,555.38 164.4,556.73 164.9,558.06 165.4,559.36 165.9,560.63 166.4,561.87 166.9,563.08 167.4,564.24 167.9,565.37 168.4,566.45 168.9,567.49 169.4,568.48 169.9,569.41 170.4,570.30 170.9,571.13 171.4,571.90 171.9,572.62 172.4,573.28 172.9,573.87 173.4,574.40 173.9,574.87 174.4,575.27 174.9,575.61 175.4,575.88 175.9,576.09 176.4,576.22 176.9,576.29 177.4,576.29 177.9,576.22 178.4,576.09 178.9,575.88 179.4,575.61 179.9,575.27 180.4,574.87 180.9,574.40 181.4,573.87 181.9,573.28 182.4,572.62 182.9,571.90 183.4,571.13 183.9,570.30 184.4,569.41 184.9,568.48 185.4,567.49 185.9,566.45 186.4,565.37 186.9,564.24 187.4,563.08 187.9,561.87 188.4,560.63 188.9,559.36 189.4,558.06 189.9,556.73 190.4,555.38 190.9,554.01 191.4,552.62 191.9,551.21 192.4,549.80 192.9,548.37 193.4,546.94 193.9,545.51 194.4,544.09 194.9,542.66 195.4,541.25 195.9,539.84 196.4,538.45 196.9,537.08 197.4,535.73 197.9,534.41 198.4,533.11 198.9,531.84 199.4,530.60 199.9,529.40 200.4,528.24 200.9,527.12 201.4,526.04 201.9,525.01 202.4,524.03 202.9,523.10 203.4,522.22 203.9,521.39 204.4,520.62 204.9,519.91 205.4,519.26 205.9,518.67 206.4,518.15 206.9,517.69 207.4,517.29 207.9,516.96 208.4,516.69 208.9,516.50 209.4,516.37 209.9,516.31 210.4,516.31 210.9,516.39 211.4,516.53 211.9,516.74 212.4,517.02 212.9,517.36 213.4,517.77 213.9,518.25 214.4,518.79 214.9,519.39 215.4,520.05 215.9,520.77 216.4,521.55 216.9,522.39 217.4,523.28 217.9,524.22 218.4,525.21 218.9,526.25 219.4,527.34 219.9,528.47 220.4,529.64 220.9,530.85 221.4,532.09 221.9,533.37 222.4,534.67 222.9,536.00 223.4,537.36 223.9,538.73 224.4,540.12 224.9,541.53 225.4,542.95 225.9,544.37 226.4,545.80 226.9,547.23 227.4,548.66 227.9,550.08 228.4,551.49 228.9,552.90 229.4,554.28 229.9,555.65 230.4,557.00 230.9,558.32 231.4,559.62 231.9,560.89 232.4,562.12 232.9,563.31 233.4,564.47 233.9,565.59 234.4,566.66 234.9,567.69 235.4,568.67 235.9,569.59 236.4,570.47 236.9,571.29 237.4,572.05 237.9,572.76 238.4,573.40 238.9,573.98 239.4,574.50 239.9,574.96 240.4,575.35 240.9,575.67 241.4,575.93 241.9,576.12 242.4,576.24 242.9,576.30 243.4,576.28 243.9,576.20 244.4,576.05 244.9,575.83 245.4,575.55 245.9,575.20 246.4,574.78 246.9,574.30 247.4,573.76 247.9,573.15 248.4,572.48 248.9,571.75 249.4,570.97 249.9,570.13 250.4,569.23 250.9,568.28 251.4,567.28 251.9,566.24 252.4,565.15 252.9,564.01 253.4,562.84 253.9,561.63 254.4,560.38 254.9,559.10 255.4,557.80 255.9,556.46 256.4,555.11 256.9,553.73 257.4,552.34 257.9,550.93 258.4,549.51 258.9,548.09 259.4,546.66 259.9,545.23 260.4,543.80 260.9,542.38 261.4,540.97 261.9,539.56 262.4,538.18 262.9,536.81 263.4,535.47 263.9,534.15 264.4,532.85 264.9,531.59 265.4,530.36 265.9,529.17 266.4,528.01 266.9,526.90 267.4,525.83 267.9,524.81 268.4,523.84 268.9,522.92 269.4,522.05 269.9,521.23 270.4,520.48 270.9,519.78 271.4,519.14 271.9,518.56 272.4,518.05 272.9,517.60 273.4,517.22 273.9,516.90 274.4,516.65 274.9,516.46 275.4,516.35" fill="none" stroke="#2f7391" stroke-width="1.45"/>
<text x="7.8" y="614.2" font-size="10.4" font-weight="bold" fill="#111" text-anchor="start" textLength="91" lengthAdjust="spacingAndGlyphs" stroke="#111" stroke-width="0.45">Distorted lattice</text>
<path d="M7.6,621.4 V719.2 H282" fill="none" stroke="#555" stroke-width="1.1"/>
<polyline points="14.70,631.30 15.41,631.37 16.12,631.56 16.84,631.89 17.55,632.34 18.26,632.90 18.98,633.57 19.69,634.33 20.40,635.17 21.11,636.08 21.82,637.04 22.54,638.04 23.25,639.05 23.96,640.06 24.68,641.06 25.39,642.02 26.10,642.92 26.81,643.77 27.52,644.53 28.24,645.20 28.95,645.76 29.66,646.21 30.38,646.54 31.09,646.73 31.80,646.80 32.51,646.73 33.23,646.52 33.94,646.18 34.65,645.71 35.36,645.12 36.08,644.41 36.79,643.61 37.50,642.73 38.21,641.77 38.92,640.76 39.64,639.71 40.35,638.65 41.06,637.59 41.77,636.54 42.49,635.53 43.20,634.58 43.91,633.69 44.62,632.89 45.34,632.18 46.05,631.59 46.76,631.12 47.47,630.78 48.19,630.57 48.90,630.50 49.51,630.62 50.12,630.98 50.74,631.58 51.35,632.40 51.96,633.43 52.58,634.66 53.19,636.06 53.80,637.60 54.41,639.27 55.02,641.02 55.64,642.85 56.25,644.70 56.86,646.55 57.48,648.38 58.09,650.13 58.70,651.80 59.31,653.34 59.92,654.74 60.54,655.97 61.15,657.00 61.76,657.82 62.38,658.42 62.99,658.78 63.60,658.90 64.31,658.77 65.02,658.40 65.72,657.77 66.43,656.92 67.14,655.84 67.85,654.57 68.56,653.11 69.27,651.50 69.97,649.76 70.68,647.93 71.39,646.03 72.10,644.10 72.81,642.17 73.52,640.27 74.22,638.44 74.93,636.70 75.64,635.09 76.35,633.63 77.06,632.36 77.77,631.28 78.47,630.43 79.18,629.80 79.89,629.43 80.60,629.30 81.25,629.34 81.90,629.47 82.55,629.67 83.20,629.95 83.85,630.30 84.50,630.72 85.15,631.20 85.80,631.72 86.45,632.29 87.10,632.89 87.75,633.52 88.40,634.15 89.05,634.78 89.70,635.41 90.35,636.01 91.00,636.57 91.65,637.10 92.30,637.58 92.95,638.00 93.60,638.35 94.25,638.63 94.90,638.83 95.55,638.96 96.20,639.00 96.81,638.96 97.42,638.83 98.04,638.63 98.65,638.35 99.26,638.00 99.88,637.58 100.49,637.10 101.10,636.58 101.71,636.01 102.33,635.41 102.94,634.78 103.55,634.15 104.16,633.52 104.78,632.89 105.39,632.29 106.00,631.73 106.61,631.20 107.23,630.72 107.84,630.30 108.45,629.95 109.06,629.67 109.68,629.47 110.29,629.34 110.90,629.30 111.73,629.52 112.55,630.17 113.38,631.23 114.20,632.70 115.03,634.55 115.85,636.74 116.67,639.24 117.50,642.00 118.33,644.98 119.15,648.13 119.97,651.38 120.80,654.70 121.62,658.02 122.45,661.27 123.27,664.42 124.10,667.40 124.92,670.16 125.75,672.66 126.57,674.85 127.40,676.70 128.22,678.17 129.05,679.23 129.88,679.88 130.70,680.10 131.22,679.88 131.73,679.22 132.25,678.12 132.77,676.62 133.28,674.74 133.80,672.50 134.32,669.95 134.83,667.12 135.35,664.08 135.87,660.87 136.38,657.54 136.90,654.15 137.42,650.76 137.93,647.43 138.45,644.22 138.97,641.18 139.48,638.35 140.00,635.80 140.52,633.56 141.03,631.68 141.55,630.18 142.07,629.08 142.58,628.42 143.10,628.20 143.91,628.46 144.72,629.22 145.53,630.47 146.33,632.20 147.14,634.37 147.95,636.94 148.76,639.88 149.57,643.12 150.38,646.63 151.18,650.32 151.99,654.15 152.80,658.05 153.61,661.95 154.42,665.78 155.22,669.47 156.03,672.98 156.84,676.22 157.65,679.16 158.46,681.73 159.27,683.90 160.07,685.63 160.88,686.88 161.69,687.64 162.50,687.90 163.08,687.64 163.66,686.87 164.24,685.60 164.82,683.85 165.40,681.65 165.97,679.04 166.55,676.07 167.13,672.77 167.71,669.23 168.29,665.48 168.87,661.60 169.45,657.65 170.03,653.70 170.61,649.82 171.19,646.07 171.77,642.52 172.35,639.23 172.93,636.26 173.50,633.65 174.08,631.45 174.66,629.70 175.24,628.43 175.82,627.66 176.40,627.40 177.11,627.54 177.83,627.96 178.54,628.64 179.25,629.58 179.96,630.77 180.68,632.17 181.39,633.78 182.10,635.55 182.81,637.46 183.53,639.48 184.24,641.57 184.95,643.70 185.66,645.83 186.38,647.92 187.09,649.94 187.80,651.85 188.51,653.62 189.22,655.23 189.94,656.63 190.65,657.82 191.36,658.76 192.07,659.44 192.79,659.86 193.50,660.00 194.11,659.86 194.72,659.43 195.34,658.73 195.95,657.76 196.56,656.55 197.18,655.11 197.79,653.47 198.40,651.65 199.01,649.69 199.62,647.62 200.24,645.48 200.85,643.30 201.46,641.12 202.07,638.98 202.69,636.91 203.30,634.95 203.91,633.13 204.52,631.49 205.14,630.05 205.75,628.84 206.36,627.87 206.97,627.17 207.59,626.74 208.20,626.60 208.95,626.69 209.69,626.96 210.44,627.40 211.18,628.01 211.93,628.77 212.67,629.68 213.42,630.71 214.17,631.85 214.91,633.08 215.66,634.38 216.40,635.73 217.15,637.10 217.90,638.47 218.64,639.82 219.39,641.12 220.13,642.35 220.88,643.49 221.62,644.52 222.37,645.43 223.12,646.19 223.86,646.80 224.61,647.24 225.35,647.51 226.10,647.60 226.75,647.51 227.39,647.24 228.04,646.79 228.68,646.17 229.33,645.39 229.97,644.47 230.62,643.41 231.27,642.25 231.91,640.99 232.56,639.67 233.20,638.30 233.85,636.90 234.50,635.50 235.14,634.13 235.79,632.81 236.43,631.55 237.08,630.39 237.72,629.33 238.37,628.41 239.02,627.63 239.66,627.01 240.31,626.56 240.95,626.29 241.60,626.20 242.38,626.41 243.15,627.03 243.92,628.05 244.70,629.45 245.47,631.21 246.25,633.30 247.03,635.69 247.80,638.33 248.57,641.17 249.35,644.17 250.12,647.28 250.90,650.45 251.67,653.62 252.45,656.73 253.22,659.73 254.00,662.58 254.77,665.21 255.55,667.60 256.32,669.69 257.10,671.45 257.88,672.85 258.65,673.87 259.43,674.49 260.20,674.70 260.91,674.49 261.62,673.86 262.34,672.83 263.05,671.40 263.76,669.62 264.48,667.49 265.19,665.08 265.90,662.40 266.61,659.51 267.32,656.47 268.04,653.31 268.75,650.10 269.46,646.89 270.18,643.73 270.89,640.69 271.60,637.80 272.31,635.12 273.02,632.71 273.74,630.58 274.45,628.80 275.16,627.37 275.88,626.34 276.59,625.71 277.3,625.5" fill="none" stroke="#2f7391" stroke-width="1.45"/>
<circle cx="130.7" cy="677" r="11.4" fill="none" stroke="#c05a58" stroke-width="1.1"/>
<circle cx="162.2" cy="684" r="11.4" fill="none" stroke="#c05a58" stroke-width="1.1"/>
<circle cx="259.9" cy="669.6" r="11.7" fill="none" stroke="#c05a58" stroke-width="1.1"/>
<line x1="96.2" y1="649.5" x2="96.2" y2="700.3" stroke="#555" stroke-width="1"/>
<line x1="162.2" y1="695.4" x2="162.2" y2="701.1" stroke="#555" stroke-width="1"/>
<circle cx="96.2" cy="640.3" r="6.4" fill="#2a3548"/>
<text x="93.6" y="713" font-size="10.2" font-weight="normal" fill="#333" text-anchor="start" textLength="27.4" lengthAdjust="spacingAndGlyphs" stroke="#333" stroke-width="0.22" >Atom</text>
<text x="159.6" y="713" font-size="10.2" font-weight="normal" fill="#333" text-anchor="start" textLength="51.4" lengthAdjust="spacingAndGlyphs" stroke="#333" stroke-width="0.22" >Deep trap</text>
<text x="313.3" y="11.6" font-size="16" font-weight="bold" fill="#111" text-anchor="start" stroke="#111" stroke-width="0.7">c</text>
<path d="M360.2,24.5 V222.3 M360.2,222.3 H612.5" fill="none" stroke="#5a5a5a" stroke-width="1.1"/>
<line x1="354.9" y1="24.5" x2="360.2" y2="24.5" stroke="#5a5a5a" stroke-width="1.1"/>
<text x="352.9" y="28.1" font-size="10" font-weight="normal" fill="#444" text-anchor="end" textLength="21.6" lengthAdjust="spacingAndGlyphs" stroke="#444" stroke-width="0.22" >1E-13</text>
<line x1="354.9" y1="55.3" x2="360.2" y2="55.3" stroke="#5a5a5a" stroke-width="1.1"/>
<text x="352.9" y="58.9" font-size="10" font-weight="normal" fill="#444" text-anchor="end" textLength="21.6" lengthAdjust="spacingAndGlyphs" stroke="#444" stroke-width="0.22" >1E-14</text>
<line x1="354.9" y1="86.2" x2="360.2" y2="86.2" stroke="#5a5a5a" stroke-width="1.1"/>
<text x="352.9" y="89.8" font-size="10" font-weight="normal" fill="#444" text-anchor="end" textLength="21.6" lengthAdjust="spacingAndGlyphs" stroke="#444" stroke-width="0.22" >1E-15</text>
<line x1="354.9" y1="117.0" x2="360.2" y2="117.0" stroke="#5a5a5a" stroke-width="1.1"/>
<text x="352.9" y="120.6" font-size="10" font-weight="normal" fill="#444" text-anchor="end" textLength="21.6" lengthAdjust="spacingAndGlyphs" stroke="#444" stroke-width="0.22" >1E-16</text>
<line x1="354.9" y1="147.8" x2="360.2" y2="147.8" stroke="#5a5a5a" stroke-width="1.1"/>
<text x="352.9" y="151.4" font-size="10" font-weight="normal" fill="#444" text-anchor="end" textLength="21.6" lengthAdjust="spacingAndGlyphs" stroke="#444" stroke-width="0.22" >1E-17</text>
<line x1="354.9" y1="178.6" x2="360.2" y2="178.6" stroke="#5a5a5a" stroke-width="1.1"/>
<text x="352.9" y="182.2" font-size="10" font-weight="normal" fill="#444" text-anchor="end" textLength="21.6" lengthAdjust="spacingAndGlyphs" stroke="#444" stroke-width="0.22" >1E-18</text>
<line x1="354.9" y1="209.5" x2="360.2" y2="209.5" stroke="#5a5a5a" stroke-width="1.1"/>
<text x="352.9" y="213.1" font-size="10" font-weight="normal" fill="#444" text-anchor="end" textLength="21.6" lengthAdjust="spacingAndGlyphs" stroke="#444" stroke-width="0.22" >1E-19</text>
<line x1="360.5" y1="222.3" x2="360.5" y2="227.3" stroke="#5a5a5a" stroke-width="1.1"/>
<text x="360.5" y="238.8" font-size="10" font-weight="normal" fill="#444" text-anchor="middle" textLength="8.8" lengthAdjust="spacingAndGlyphs" stroke="#444" stroke-width="0.22" >1.1</text>
<line x1="402.5" y1="222.3" x2="402.5" y2="227.3" stroke="#5a5a5a" stroke-width="1.1"/>
<text x="402.5" y="238.8" font-size="10" font-weight="normal" fill="#444" text-anchor="middle" textLength="10.8" lengthAdjust="spacingAndGlyphs" stroke="#444" stroke-width="0.22" >1.2</text>
<line x1="444.5" y1="222.3" x2="444.5" y2="227.3" stroke="#5a5a5a" stroke-width="1.1"/>
<text x="444.5" y="238.8" font-size="10" font-weight="normal" fill="#444" text-anchor="middle" textLength="10.8" lengthAdjust="spacingAndGlyphs" stroke="#444" stroke-width="0.22" >1.3</text>
<line x1="486.5" y1="222.3" x2="486.5" y2="227.3" stroke="#5a5a5a" stroke-width="1.1"/>
<text x="486.5" y="238.8" font-size="10" font-weight="normal" fill="#444" text-anchor="middle" textLength="10.8" lengthAdjust="spacingAndGlyphs" stroke="#444" stroke-width="0.22" >1.4</text>
<line x1="528.5" y1="222.3" x2="528.5" y2="227.3" stroke="#5a5a5a" stroke-width="1.1"/>
<text x="528.5" y="238.8" font-size="10" font-weight="normal" fill="#444" text-anchor="middle" textLength="10.8" lengthAdjust="spacingAndGlyphs" stroke="#444" stroke-width="0.22" >1.5</text>
<line x1="570.5" y1="222.3" x2="570.5" y2="227.3" stroke="#5a5a5a" stroke-width="1.1"/>
<text x="570.5" y="238.8" font-size="10" font-weight="normal" fill="#444" text-anchor="middle" textLength="10.8" lengthAdjust="spacingAndGlyphs" stroke="#444" stroke-width="0.22" >1.6</text>
<line x1="612.5" y1="222.3" x2="612.5" y2="227.3" stroke="#5a5a5a" stroke-width="1.1"/>
<text x="612.5" y="238.8" font-size="10" font-weight="normal" fill="#444" text-anchor="middle" textLength="10.8" lengthAdjust="spacingAndGlyphs" stroke="#444" stroke-width="0.22" >1.7</text>
<text x="477.0" y="254.9" font-size="11" font-style="italic" fill="#333" stroke="#333" stroke-width="0.22" textLength="22.5" lengthAdjust="spacingAndGlyphs">T<tspan font-size="7.5" dy="1.6">m</tspan><tspan dy="-1.6">/T</tspan></text>
<text transform="translate(323.1,141.2) rotate(-90)" font-size="11.6" fill="#333" stroke="#333" stroke-width="0.2" textLength="47.6" lengthAdjust="spacingAndGlyphs">D<tspan font-size="6.2" dy="1.3">Co</tspan><tspan dy="-1.3"> (m</tspan><tspan font-size="6.2" dy="-4.2">2</tspan><tspan dy="4.2">/s)</tspan></text>
<text x="367.7" y="30.4" font-size="11" font-weight="bold" fill="#111" text-anchor="start" textLength="157.5" lengthAdjust="spacingAndGlyphs" stroke="#111" stroke-width="0.45">Co diffusion in FCC matrices</text>
<polyline points="431.8,71.3 575.3,161.6" fill="none" stroke="#bc9cc3" stroke-width="1.2"/>
<polyline points="445.9,96.9 591.1,188.4" fill="none" stroke="#2f343d" stroke-width="1.5"/>
<polyline points="423.5,101.2 571.1,179.2" fill="none" stroke="#b9535d" stroke-width="1.3"/>
<polyline points="396,81.6 483.5,145.9" fill="none" stroke="#d3b274" stroke-width="1.2"/>
<polyline points="389.4,87.5 527.8,175.8" fill="none" stroke="#356f9f" stroke-width="1.4"/>
<polyline points="480,143.2 527.8,175.8" fill="none" stroke="#4f8080" stroke-width="1.5"/>
<path d="M665.4,24.5 V222.3 M665.4,222.3 H917.3" fill="none" stroke="#5a5a5a" stroke-width="1.1"/>
<line x1="660.1" y1="24.5" x2="665.4" y2="24.5" stroke="#5a5a5a" stroke-width="1.1"/>
<text x="658.1" y="28.1" font-size="10" font-weight="normal" fill="#444" text-anchor="end" textLength="21.6" lengthAdjust="spacingAndGlyphs" stroke="#444" stroke-width="0.22" >1E-13</text>
<line x1="660.1" y1="55.3" x2="665.4" y2="55.3" stroke="#5a5a5a" stroke-width="1.1"/>
<text x="658.1" y="58.9" font-size="10" font-weight="normal" fill="#444" text-anchor="end" textLength="21.6" lengthAdjust="spacingAndGlyphs" stroke="#444" stroke-width="0.22" >1E-14</text>
<line x1="660.1" y1="86.2" x2="665.4" y2="86.2" stroke="#5a5a5a" stroke-width="1.1"/>
<text x="658.1" y="89.8" font-size="10" font-weight="normal" fill="#444" text-anchor="end" textLength="21.6" lengthAdjust="spacingAndGlyphs" stroke="#444" stroke-width="0.22" >1E-15</text>
<line x1="660.1" y1="117.0" x2="665.4" y2="117.0" stroke="#5a5a5a" stroke-width="1.1"/>
<text x="658.1" y="120.6" font-size="10" font-weight="normal" fill="#444" text-anchor="end" textLength="21.6" lengthAdjust="spacingAndGlyphs" stroke="#444" stroke-width="0.22" >1E-16</text>
<line x1="660.1" y1="147.8" x2="665.4" y2="147.8" stroke="#5a5a5a" stroke-width="1.1"/>
<text x="658.1" y="151.4" font-size="10" font-weight="normal" fill="#444" text-anchor="end" textLength="21.6" lengthAdjust="spacingAndGlyphs" stroke="#444" stroke-width="0.22" >1E-17</text>
<line x1="660.1" y1="178.6" x2="665.4" y2="178.6" stroke="#5a5a5a" stroke-width="1.1"/>
<text x="658.1" y="182.2" font-size="10" font-weight="normal" fill="#444" text-anchor="end" textLength="21.6" lengthAdjust="spacingAndGlyphs" stroke="#444" stroke-width="0.22" >1E-18</text>
<line x1="660.1" y1="209.5" x2="665.4" y2="209.5" stroke="#5a5a5a" stroke-width="1.1"/>
<text x="658.1" y="213.1" font-size="10" font-weight="normal" fill="#444" text-anchor="end" textLength="21.6" lengthAdjust="spacingAndGlyphs" stroke="#444" stroke-width="0.22" >1E-19</text>
<line x1="665.3" y1="222.3" x2="665.3" y2="227.3" stroke="#5a5a5a" stroke-width="1.1"/>
<text x="665.3" y="238.8" font-size="10" font-weight="normal" fill="#444" text-anchor="middle" textLength="8.8" lengthAdjust="spacingAndGlyphs" stroke="#444" stroke-width="0.22" >1.1</text>
<line x1="707.3" y1="222.3" x2="707.3" y2="227.3" stroke="#5a5a5a" stroke-width="1.1"/>
<text x="707.3" y="238.8" font-size="10" font-weight="normal" fill="#444" text-anchor="middle" textLength="10.8" lengthAdjust="spacingAndGlyphs" stroke="#444" stroke-width="0.22" >1.2</text>
<line x1="749.3" y1="222.3" x2="749.3" y2="227.3" stroke="#5a5a5a" stroke-width="1.1"/>
<text x="749.3" y="238.8" font-size="10" font-weight="normal" fill="#444" text-anchor="middle" textLength="10.8" lengthAdjust="spacingAndGlyphs" stroke="#444" stroke-width="0.22" >1.3</text>
<line x1="791.3" y1="222.3" x2="791.3" y2="227.3" stroke="#5a5a5a" stroke-width="1.1"/>
<text x="791.3" y="238.8" font-size="10" font-weight="normal" fill="#444" text-anchor="middle" textLength="10.8" lengthAdjust="spacingAndGlyphs" stroke="#444" stroke-width="0.22" >1.4</text>
<line x1="833.3" y1="222.3" x2="833.3" y2="227.3" stroke="#5a5a5a" stroke-width="1.1"/>
<text x="833.3" y="238.8" font-size="10" font-weight="normal" fill="#444" text-anchor="middle" textLength="10.8" lengthAdjust="spacingAndGlyphs" stroke="#444" stroke-width="0.22" >1.5</text>
<line x1="875.3" y1="222.3" x2="875.3" y2="227.3" stroke="#5a5a5a" stroke-width="1.1"/>
<text x="875.3" y="238.8" font-size="10" font-weight="normal" fill="#444" text-anchor="middle" textLength="10.8" lengthAdjust="spacingAndGlyphs" stroke="#444" stroke-width="0.22" >1.6</text>
<line x1="917.3" y1="222.3" x2="917.3" y2="227.3" stroke="#5a5a5a" stroke-width="1.1"/>
<text x="917.3" y="238.8" font-size="10" font-weight="normal" fill="#444" text-anchor="middle" textLength="10.8" lengthAdjust="spacingAndGlyphs" stroke="#444" stroke-width="0.22" >1.7</text>
<text x="781.8" y="254.9" font-size="11" font-style="italic" fill="#333" stroke="#333" stroke-width="0.22" textLength="22.5" lengthAdjust="spacingAndGlyphs">T<tspan font-size="7.5" dy="1.6">m</tspan><tspan dy="-1.6">/T</tspan></text>
<text transform="translate(627.7,141.2) rotate(-90)" font-size="11.6" fill="#333" stroke="#333" stroke-width="0.2" textLength="46.5" lengthAdjust="spacingAndGlyphs">D<tspan font-size="6.2" dy="1.3">Cr</tspan><tspan dy="-1.3"> (m</tspan><tspan font-size="6.2" dy="-4.2">2</tspan><tspan dy="4.2">/s)</tspan></text>
<text x="672.9" y="30.4" font-size="11" font-weight="bold" fill="#111" text-anchor="start" textLength="155.0" lengthAdjust="spacingAndGlyphs" stroke="#111" stroke-width="0.45">Cr diffusion in FCC matrices</text>
<polyline points="757.8,57.8 912.7,154.2" fill="none" stroke="#9a9a9c" stroke-width="1.2" stroke-dasharray="3 2.2"/>
<polyline points="727.6,76.8 874.5,182.8" fill="none" stroke="#b9535d" stroke-width="1.3"/>
<polyline points="735.5,83.2 880,182.8" fill="none" stroke="#8a6f86" stroke-width="1.2" stroke-dasharray="3 2.2"/>
<polyline points="699.3,71.6 831.3,164.1" fill="none" stroke="#d3b274" stroke-width="1.3"/>
<polyline points="694.1,72.3 831.8,174.6" fill="none" stroke="#356f9f" stroke-width="1.5"/>
<path d="M359.9,270.9 V469.4 M359.9,469.4 H612.3" fill="none" stroke="#5a5a5a" stroke-width="1.1"/>
<line x1="354.6" y1="270.9" x2="359.9" y2="270.9" stroke="#5a5a5a" stroke-width="1.1"/>
<text x="352.6" y="274.5" font-size="10" font-weight="normal" fill="#444" text-anchor="end" textLength="21.6" lengthAdjust="spacingAndGlyphs" stroke="#444" stroke-width="0.22" >1E-13</text>
<line x1="354.6" y1="301.9" x2="359.9" y2="301.9" stroke="#5a5a5a" stroke-width="1.1"/>
<text x="352.6" y="305.5" font-size="10" font-weight="normal" fill="#444" text-anchor="end" textLength="21.6" lengthAdjust="spacingAndGlyphs" stroke="#444" stroke-width="0.22" >1E-14</text>
<line x1="354.6" y1="332.8" x2="359.9" y2="332.8" stroke="#5a5a5a" stroke-width="1.1"/>
<text x="352.6" y="336.4" font-size="10" font-weight="normal" fill="#444" text-anchor="end" textLength="21.6" lengthAdjust="spacingAndGlyphs" stroke="#444" stroke-width="0.22" >1E-15</text>
<line x1="354.6" y1="363.8" x2="359.9" y2="363.8" stroke="#5a5a5a" stroke-width="1.1"/>
<text x="352.6" y="367.4" font-size="10" font-weight="normal" fill="#444" text-anchor="end" textLength="21.6" lengthAdjust="spacingAndGlyphs" stroke="#444" stroke-width="0.22" >1E-16</text>
<line x1="354.6" y1="394.8" x2="359.9" y2="394.8" stroke="#5a5a5a" stroke-width="1.1"/>
<text x="352.6" y="398.4" font-size="10" font-weight="normal" fill="#444" text-anchor="end" textLength="21.6" lengthAdjust="spacingAndGlyphs" stroke="#444" stroke-width="0.22" >1E-17</text>
<line x1="354.6" y1="425.8" x2="359.9" y2="425.8" stroke="#5a5a5a" stroke-width="1.1"/>
<text x="352.6" y="429.4" font-size="10" font-weight="normal" fill="#444" text-anchor="end" textLength="21.6" lengthAdjust="spacingAndGlyphs" stroke="#444" stroke-width="0.22" >1E-18</text>
<line x1="354.6" y1="456.7" x2="359.9" y2="456.7" stroke="#5a5a5a" stroke-width="1.1"/>
<text x="352.6" y="460.3" font-size="10" font-weight="normal" fill="#444" text-anchor="end" textLength="21.6" lengthAdjust="spacingAndGlyphs" stroke="#444" stroke-width="0.22" >1E-19</text>
<line x1="360.3" y1="469.4" x2="360.3" y2="474.4" stroke="#5a5a5a" stroke-width="1.1"/>
<text x="360.3" y="485.9" font-size="10" font-weight="normal" fill="#444" text-anchor="middle" textLength="8.8" lengthAdjust="spacingAndGlyphs" stroke="#444" stroke-width="0.22" >1.1</text>
<line x1="402.3" y1="469.4" x2="402.3" y2="474.4" stroke="#5a5a5a" stroke-width="1.1"/>
<text x="402.3" y="485.9" font-size="10" font-weight="normal" fill="#444" text-anchor="middle" textLength="10.8" lengthAdjust="spacingAndGlyphs" stroke="#444" stroke-width="0.22" >1.2</text>
<line x1="444.3" y1="469.4" x2="444.3" y2="474.4" stroke="#5a5a5a" stroke-width="1.1"/>
<text x="444.3" y="485.9" font-size="10" font-weight="normal" fill="#444" text-anchor="middle" textLength="10.8" lengthAdjust="spacingAndGlyphs" stroke="#444" stroke-width="0.22" >1.3</text>
<line x1="486.3" y1="469.4" x2="486.3" y2="474.4" stroke="#5a5a5a" stroke-width="1.1"/>
<text x="486.3" y="485.9" font-size="10" font-weight="normal" fill="#444" text-anchor="middle" textLength="10.8" lengthAdjust="spacingAndGlyphs" stroke="#444" stroke-width="0.22" >1.4</text>
<line x1="528.3" y1="469.4" x2="528.3" y2="474.4" stroke="#5a5a5a" stroke-width="1.1"/>
<text x="528.3" y="485.9" font-size="10" font-weight="normal" fill="#444" text-anchor="middle" textLength="10.8" lengthAdjust="spacingAndGlyphs" stroke="#444" stroke-width="0.22" >1.5</text>
<line x1="570.3" y1="469.4" x2="570.3" y2="474.4" stroke="#5a5a5a" stroke-width="1.1"/>
<text x="570.3" y="485.9" font-size="10" font-weight="normal" fill="#444" text-anchor="middle" textLength="10.8" lengthAdjust="spacingAndGlyphs" stroke="#444" stroke-width="0.22" >1.6</text>
<line x1="612.3" y1="469.4" x2="612.3" y2="474.4" stroke="#5a5a5a" stroke-width="1.1"/>
<text x="612.3" y="485.9" font-size="10" font-weight="normal" fill="#444" text-anchor="middle" textLength="10.8" lengthAdjust="spacingAndGlyphs" stroke="#444" stroke-width="0.22" >1.7</text>
<text x="476.8" y="502.0" font-size="11" font-style="italic" fill="#333" stroke="#333" stroke-width="0.22" textLength="22.5" lengthAdjust="spacingAndGlyphs">T<tspan font-size="7.5" dy="1.6">m</tspan><tspan dy="-1.6">/T</tspan></text>
<text transform="translate(322.7,388.0) rotate(-90)" font-size="11.6" fill="#333" stroke="#333" stroke-width="0.2" textLength="46" lengthAdjust="spacingAndGlyphs">D<tspan font-size="6.2" dy="1.3">Fe</tspan><tspan dy="-1.3"> (m</tspan><tspan font-size="6.2" dy="-4.2">2</tspan><tspan dy="4.2">/s)</tspan></text>
<text x="367.4" y="277.8" font-size="11" font-weight="bold" fill="#111" text-anchor="start" textLength="155" lengthAdjust="spacingAndGlyphs" stroke="#111" stroke-width="0.45">Fe diffusion in FCC matrices</text>
<polyline points="453.8,339.1 606.3,430.1" fill="none" stroke="#9aa6b0" stroke-width="1.2" stroke-dasharray="3 2.2"/>
<polyline points="423.5,329.3 570.7,427.7" fill="none" stroke="#b9535d" stroke-width="1.3"/>
<polyline points="430.4,335.2 575.6,435.5" fill="none" stroke="#7a7088" stroke-width="1.2" stroke-dasharray="3 2.2"/>
<polyline points="389.3,322.9 527.6,423.7" fill="none" stroke="#6f7c62" stroke-width="1.6"/>
<path d="M665.3,271.1 V469.4 M665.3,469.4 H917.3" fill="none" stroke="#5a5a5a" stroke-width="1.1"/>
<line x1="660.0" y1="271.1" x2="665.3" y2="271.1" stroke="#5a5a5a" stroke-width="1.1"/>
<text x="658.0" y="274.7" font-size="10" font-weight="normal" fill="#444" text-anchor="end" textLength="21.6" lengthAdjust="spacingAndGlyphs" stroke="#444" stroke-width="0.22" >1E-13</text>
<line x1="660.0" y1="307.5" x2="665.3" y2="307.5" stroke="#5a5a5a" stroke-width="1.1"/>
<text x="658.0" y="311.1" font-size="10" font-weight="normal" fill="#444" text-anchor="end" textLength="21.6" lengthAdjust="spacingAndGlyphs" stroke="#444" stroke-width="0.22" >1E-14</text>
<line x1="660.0" y1="344.0" x2="665.3" y2="344.0" stroke="#5a5a5a" stroke-width="1.1"/>
<text x="658.0" y="347.6" font-size="10" font-weight="normal" fill="#444" text-anchor="end" textLength="21.6" lengthAdjust="spacingAndGlyphs" stroke="#444" stroke-width="0.22" >1E-15</text>
<line x1="660.0" y1="380.4" x2="665.3" y2="380.4" stroke="#5a5a5a" stroke-width="1.1"/>
<text x="658.0" y="384.0" font-size="10" font-weight="normal" fill="#444" text-anchor="end" textLength="21.6" lengthAdjust="spacingAndGlyphs" stroke="#444" stroke-width="0.22" >1E-16</text>
<line x1="660.0" y1="416.9" x2="665.3" y2="416.9" stroke="#5a5a5a" stroke-width="1.1"/>
<text x="658.0" y="420.5" font-size="10" font-weight="normal" fill="#444" text-anchor="end" textLength="21.6" lengthAdjust="spacingAndGlyphs" stroke="#444" stroke-width="0.22" >1E-17</text>
<line x1="660.0" y1="453.3" x2="665.3" y2="453.3" stroke="#5a5a5a" stroke-width="1.1"/>
<text x="658.0" y="456.9" font-size="10" font-weight="normal" fill="#444" text-anchor="end" textLength="21.6" lengthAdjust="spacingAndGlyphs" stroke="#444" stroke-width="0.22" >1E-18</text>
<line x1="665.3" y1="469.4" x2="665.3" y2="474.4" stroke="#5a5a5a" stroke-width="1.1"/>
<text x="665.3" y="485.9" font-size="10" font-weight="normal" fill="#444" text-anchor="middle" textLength="8.8" lengthAdjust="spacingAndGlyphs" stroke="#444" stroke-width="0.22" >1.1</text>
<line x1="707.3" y1="469.4" x2="707.3" y2="474.4" stroke="#5a5a5a" stroke-width="1.1"/>
<text x="707.3" y="485.9" font-size="10" font-weight="normal" fill="#444" text-anchor="middle" textLength="10.8" lengthAdjust="spacingAndGlyphs" stroke="#444" stroke-width="0.22" >1.2</text>
<line x1="749.3" y1="469.4" x2="749.3" y2="474.4" stroke="#5a5a5a" stroke-width="1.1"/>
<text x="749.3" y="485.9" font-size="10" font-weight="normal" fill="#444" text-anchor="middle" textLength="10.8" lengthAdjust="spacingAndGlyphs" stroke="#444" stroke-width="0.22" >1.3</text>
<line x1="791.3" y1="469.4" x2="791.3" y2="474.4" stroke="#5a5a5a" stroke-width="1.1"/>
<text x="791.3" y="485.9" font-size="10" font-weight="normal" fill="#444" text-anchor="middle" textLength="10.8" lengthAdjust="spacingAndGlyphs" stroke="#444" stroke-width="0.22" >1.4</text>
<line x1="833.3" y1="469.4" x2="833.3" y2="474.4" stroke="#5a5a5a" stroke-width="1.1"/>
<text x="833.3" y="485.9" font-size="10" font-weight="normal" fill="#444" text-anchor="middle" textLength="10.8" lengthAdjust="spacingAndGlyphs" stroke="#444" stroke-width="0.22" >1.5</text>
<line x1="875.3" y1="469.4" x2="875.3" y2="474.4" stroke="#5a5a5a" stroke-width="1.1"/>
<text x="875.3" y="485.9" font-size="10" font-weight="normal" fill="#444" text-anchor="middle" textLength="10.8" lengthAdjust="spacingAndGlyphs" stroke="#444" stroke-width="0.22" >1.6</text>
<line x1="917.3" y1="469.4" x2="917.3" y2="474.4" stroke="#5a5a5a" stroke-width="1.1"/>
<text x="917.3" y="485.9" font-size="10" font-weight="normal" fill="#444" text-anchor="middle" textLength="10.8" lengthAdjust="spacingAndGlyphs" stroke="#444" stroke-width="0.22" >1.7</text>
<text x="781.8" y="502.0" font-size="11" font-style="italic" fill="#333" stroke="#333" stroke-width="0.22" textLength="22.5" lengthAdjust="spacingAndGlyphs">T<tspan font-size="7.5" dy="1.6">m</tspan><tspan dy="-1.6">/T</tspan></text>
<text transform="translate(627.5,392.6) rotate(-90)" font-size="11.6" fill="#333" stroke="#333" stroke-width="0.2" textLength="51.2" lengthAdjust="spacingAndGlyphs">D<tspan font-size="6.2" dy="1.3">Mn</tspan><tspan dy="-1.3"> (m</tspan><tspan font-size="6.2" dy="-4.2">2</tspan><tspan dy="4.2">/s)</tspan></text>
<text x="672.8" y="277.8" font-size="11" font-weight="bold" fill="#111" text-anchor="start" textLength="159.8" lengthAdjust="spacingAndGlyphs" stroke="#111" stroke-width="0.45">Mn diffusion in FCC matrices</text>
<polyline points="735.8,303.9 880.6,410" fill="none" stroke="#2f343d" stroke-width="1.5"/>
<polyline points="758,341.2 913.4,433.6" fill="none" stroke="#bc9cc3" stroke-width="1.2"/>
<polyline points="693.7,313.2 831.3,418.6" fill="none" stroke="#b9535d" stroke-width="1.3"/>
<polyline points="698.8,321.7 832.3,430.2" fill="none" stroke="#d3b274" stroke-width="1.3"/>
<path d="M360.1,518.9 V716.8 M354.8,716.8 H612.2" fill="none" stroke="#5a5a5a" stroke-width="1.1"/>
<line x1="354.8" y1="540.3" x2="360.1" y2="540.3" stroke="#5a5a5a" stroke-width="1.1"/>
<text x="352.8" y="543.9" font-size="10" font-weight="normal" fill="#444" text-anchor="end" textLength="21.6" lengthAdjust="spacingAndGlyphs" stroke="#444" stroke-width="0.22" >1E-14</text>
<line x1="354.8" y1="569.7" x2="360.1" y2="569.7" stroke="#5a5a5a" stroke-width="1.1"/>
<text x="352.8" y="573.3" font-size="10" font-weight="normal" fill="#444" text-anchor="end" textLength="21.6" lengthAdjust="spacingAndGlyphs" stroke="#444" stroke-width="0.22" >1E-15</text>
<line x1="354.8" y1="599.1" x2="360.1" y2="599.1" stroke="#5a5a5a" stroke-width="1.1"/>
<text x="352.8" y="602.7" font-size="10" font-weight="normal" fill="#444" text-anchor="end" textLength="21.6" lengthAdjust="spacingAndGlyphs" stroke="#444" stroke-width="0.22" >1E-16</text>
<line x1="354.8" y1="628.6" x2="360.1" y2="628.6" stroke="#5a5a5a" stroke-width="1.1"/>
<text x="352.8" y="632.2" font-size="10" font-weight="normal" fill="#444" text-anchor="end" textLength="21.6" lengthAdjust="spacingAndGlyphs" stroke="#444" stroke-width="0.22" >1E-17</text>
<line x1="354.8" y1="658.0" x2="360.1" y2="658.0" stroke="#5a5a5a" stroke-width="1.1"/>
<text x="352.8" y="661.6" font-size="10" font-weight="normal" fill="#444" text-anchor="end" textLength="21.6" lengthAdjust="spacingAndGlyphs" stroke="#444" stroke-width="0.22" >1E-18</text>
<line x1="354.8" y1="687.4" x2="360.1" y2="687.4" stroke="#5a5a5a" stroke-width="1.1"/>
<text x="352.8" y="691.0" font-size="10" font-weight="normal" fill="#444" text-anchor="end" textLength="21.6" lengthAdjust="spacingAndGlyphs" stroke="#444" stroke-width="0.22" >1E-19</text>
<line x1="354.8" y1="716.8" x2="360.1" y2="716.8" stroke="#5a5a5a" stroke-width="1.1"/>
<text x="352.8" y="720.4" font-size="10" font-weight="normal" fill="#444" text-anchor="end" textLength="23.8" lengthAdjust="spacingAndGlyphs" stroke="#444" stroke-width="0.22" >1E-20</text>
<line x1="385.4" y1="716.8" x2="385.4" y2="721.8" stroke="#5a5a5a" stroke-width="1.1"/>
<text x="385.4" y="733.3" font-size="10" font-weight="normal" fill="#444" text-anchor="middle" textLength="10.8" lengthAdjust="spacingAndGlyphs" stroke="#444" stroke-width="0.22" >1.2</text>
<line x1="436.1" y1="716.8" x2="436.1" y2="721.8" stroke="#5a5a5a" stroke-width="1.1"/>
<text x="436.1" y="733.3" font-size="10" font-weight="normal" fill="#444" text-anchor="middle" textLength="10.8" lengthAdjust="spacingAndGlyphs" stroke="#444" stroke-width="0.22" >1.3</text>
<line x1="486.8" y1="716.8" x2="486.8" y2="721.8" stroke="#5a5a5a" stroke-width="1.1"/>
<text x="486.8" y="733.3" font-size="10" font-weight="normal" fill="#444" text-anchor="middle" textLength="10.8" lengthAdjust="spacingAndGlyphs" stroke="#444" stroke-width="0.22" >1.4</text>
<line x1="537.5" y1="716.8" x2="537.5" y2="721.8" stroke="#5a5a5a" stroke-width="1.1"/>
<text x="537.5" y="733.3" font-size="10" font-weight="normal" fill="#444" text-anchor="middle" textLength="10.8" lengthAdjust="spacingAndGlyphs" stroke="#444" stroke-width="0.22" >1.5</text>
<line x1="588.2" y1="716.8" x2="588.2" y2="721.8" stroke="#5a5a5a" stroke-width="1.1"/>
<text x="588.2" y="733.3" font-size="10" font-weight="normal" fill="#444" text-anchor="middle" textLength="10.8" lengthAdjust="spacingAndGlyphs" stroke="#444" stroke-width="0.22" >1.6</text>
<text x="477.3" y="749.4" font-size="11" font-style="italic" fill="#333" stroke="#333" stroke-width="0.22" textLength="22.5" lengthAdjust="spacingAndGlyphs">T<tspan font-size="7.5" dy="1.6">m</tspan><tspan dy="-1.6">/T</tspan></text>
<text transform="translate(322.7,649.2) rotate(-90)" font-size="11.6" fill="#333" stroke="#333" stroke-width="0.2" textLength="48.8" lengthAdjust="spacingAndGlyphs">D<tspan font-size="6.2" dy="1.3">Ni</tspan><tspan dy="-1.3"> (m</tspan><tspan font-size="6.2" dy="-4.2">2</tspan><tspan dy="4.2">/s)</tspan></text>
<text x="367.6" y="525.5" font-size="11" font-weight="bold" fill="#111" text-anchor="start" textLength="154.3" lengthAdjust="spacingAndGlyphs" stroke="#111" stroke-width="0.45">Ni diffusion in FCC matrices</text>
<polyline points="371.2,537 594,654.7" fill="none" stroke="#d08c94" stroke-width="1.3" stroke-dasharray="3 2.2"/>
<polyline points="376,543.7 594,654.7" fill="none" stroke="#2f343d" stroke-width="1.5"/>
<polyline points="374.7,554.4 592.6,668.9" fill="none" stroke="#78a6c8" stroke-width="1.3" stroke-dasharray="3 2.2"/>
<polyline points="371.2,563.8 394.5,576.6 594,664.6" fill="none" stroke="#b9535d" stroke-width="1.3"/>
<polyline points="371.2,563.8 593.6,697" fill="none" stroke="#d3b274" stroke-width="1.2"/>
<polyline points="371.2,563.8 594,689.4" fill="none" stroke="#356f9f" stroke-width="1.5"/>
<rect x="663.5" y="583.9" width="115.1" height="133" fill="none" stroke="#4a4a4a" stroke-width="1.25"/>
<line x1="670.8" y1="594.4" x2="687.3" y2="594.4" stroke="#bc9cc3" stroke-width="1.6"/>
<text x="691.1" y="598.1" font-size="10.2" fill="#333" stroke="#333" stroke-width="0.22" textLength="14.6" lengthAdjust="spacingAndGlyphs">Co</text>
<line x1="670.8" y1="610.6" x2="687.3" y2="610.6" stroke="#2f343d" stroke-width="1.6"/>
<text x="691.1" y="614.3" font-size="10.2" fill="#333" stroke="#333" stroke-width="0.22" textLength="10.4" lengthAdjust="spacingAndGlyphs">Ni</text>
<line x1="670.8" y1="626.9" x2="687.3" y2="626.9" stroke="#9a9a9c" stroke-width="1.6" stroke-dasharray="3 1.8"/>
<text x="691.1" y="630.6" font-size="10.2" fill="#333" stroke="#333" stroke-width="0.22" textLength="11.8" lengthAdjust="spacingAndGlyphs">Fe</text>
<line x1="670.8" y1="643.1" x2="687.3" y2="643.1" stroke="#d08c94" stroke-width="1.6" stroke-dasharray="3 1.8"/>
<text x="691.1" y="646.8" font-size="10.2" fill="#333" stroke="#333" stroke-width="0.22" textLength="49.2" lengthAdjust="spacingAndGlyphs">Fe-45.3Ni</text>
<line x1="670.8" y1="659.3" x2="687.3" y2="659.3" stroke="#78a6c8" stroke-width="1.6" stroke-dasharray="3 1.8"/>
<text x="691.1" y="663.0" font-size="10.2" fill="#333" stroke="#333" stroke-width="0.22" textLength="67.4" lengthAdjust="spacingAndGlyphs">Fe-15Cr-20Ni</text>
<line x1="670.8" y1="675.5" x2="687.3" y2="675.5" stroke="#b9535d" stroke-width="1.6"/>
<text x="691.1" y="679.2" font-size="10.2" fill="#333" stroke="#333" stroke-width="0.22" textLength="50.6" lengthAdjust="spacingAndGlyphs">CoCrFeNi</text>
<line x1="670.8" y1="691.8" x2="687.3" y2="691.8" stroke="#356f9f" stroke-width="1.6"/>
<text x="691.1" y="695.5" font-size="10.2" fill="#333" stroke="#333" stroke-width="0.22" textLength="67.4" lengthAdjust="spacingAndGlyphs">CoCrFeMnNi</text>
<line x1="670.8" y1="708.0" x2="687.3" y2="708.0" stroke="#d3b274" stroke-width="1.6"/>
<text x="691.1" y="711.7" font-size="10.2" fill="#333" stroke="#333" stroke-width="0.22" textLength="76.4" lengthAdjust="spacingAndGlyphs">CoCrFeMn<tspan font-size="7" dy="1.8">0.5</tspan><tspan dy="-1.8">Ni</tspan></text>
</svg>
</body></html>
